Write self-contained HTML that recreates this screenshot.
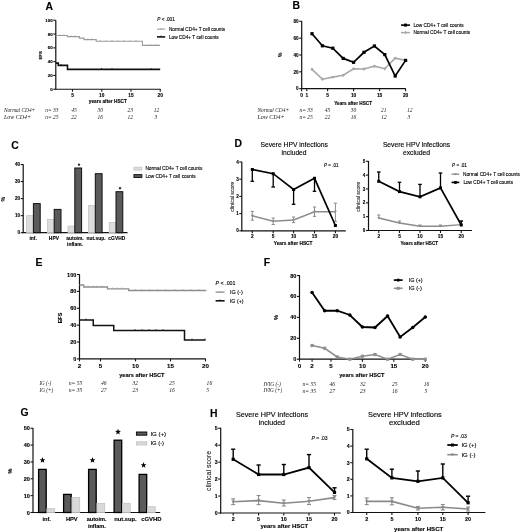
<!DOCTYPE html>
<html><head><meta charset="utf-8"><style>
html,body{margin:0;padding:0;background:#fff;width:520px;height:532px;overflow:hidden}
svg{display:block;filter:blur(0.3px)}

</style></head><body>
<svg width="520" height="532" viewBox="0 0 520 532">
<rect width="520" height="532" fill="#fff"/>
<text x="45.40" y="10.30" font-family='"Liberation Sans", sans-serif' font-size="10.40" font-weight="bold" font-style="normal" text-anchor="start" fill="#000" stroke="#000" stroke-width="0.12" >A</text>
<line x1="55.80" y1="20.20" x2="55.80" y2="89.60" stroke="#111" stroke-width="1.2" />
<line x1="53.30" y1="89.25" x2="55.80" y2="89.25" stroke="#111" stroke-width="1.08" />
<text x="52.70" y="90.83" font-family='"Liberation Sans", sans-serif' font-size="4.40" font-weight="bold" font-style="normal" text-anchor="end" fill="#000" stroke="#000" stroke-width="0.12" >0</text>
<line x1="53.30" y1="75.45" x2="55.80" y2="75.45" stroke="#111" stroke-width="1.08" />
<text x="52.70" y="77.03" font-family='"Liberation Sans", sans-serif' font-size="4.40" font-weight="bold" font-style="normal" text-anchor="end" fill="#000" stroke="#000" stroke-width="0.12" >20</text>
<line x1="53.30" y1="61.65" x2="55.80" y2="61.65" stroke="#111" stroke-width="1.08" />
<text x="52.70" y="63.23" font-family='"Liberation Sans", sans-serif' font-size="4.40" font-weight="bold" font-style="normal" text-anchor="end" fill="#000" stroke="#000" stroke-width="0.12" >40</text>
<line x1="53.30" y1="47.85" x2="55.80" y2="47.85" stroke="#111" stroke-width="1.08" />
<text x="52.70" y="49.43" font-family='"Liberation Sans", sans-serif' font-size="4.40" font-weight="bold" font-style="normal" text-anchor="end" fill="#000" stroke="#000" stroke-width="0.12" >60</text>
<line x1="53.30" y1="34.05" x2="55.80" y2="34.05" stroke="#111" stroke-width="1.08" />
<text x="52.70" y="35.63" font-family='"Liberation Sans", sans-serif' font-size="4.40" font-weight="bold" font-style="normal" text-anchor="end" fill="#000" stroke="#000" stroke-width="0.12" >80</text>
<line x1="53.30" y1="20.25" x2="55.80" y2="20.25" stroke="#111" stroke-width="1.08" />
<text x="52.70" y="21.83" font-family='"Liberation Sans", sans-serif' font-size="4.40" font-weight="bold" font-style="normal" text-anchor="end" fill="#000" stroke="#000" stroke-width="0.12" >100</text>
<line x1="55.20" y1="89.25" x2="160.60" y2="89.25" stroke="#111" stroke-width="1.2" />
<line x1="72.50" y1="89.25" x2="72.50" y2="91.75" stroke="#111" stroke-width="1.08" />
<text x="72.50" y="96.93" font-family='"Liberation Sans", sans-serif' font-size="4.80" font-weight="bold" font-style="normal" text-anchor="middle" fill="#000" stroke="#000" stroke-width="0.12" >5</text>
<line x1="101.75" y1="89.25" x2="101.75" y2="91.75" stroke="#111" stroke-width="1.08" />
<text x="101.75" y="96.93" font-family='"Liberation Sans", sans-serif' font-size="4.80" font-weight="bold" font-style="normal" text-anchor="middle" fill="#000" stroke="#000" stroke-width="0.12" >10</text>
<line x1="131.00" y1="89.25" x2="131.00" y2="91.75" stroke="#111" stroke-width="1.08" />
<text x="131.00" y="96.93" font-family='"Liberation Sans", sans-serif' font-size="4.80" font-weight="bold" font-style="normal" text-anchor="middle" fill="#000" stroke="#000" stroke-width="0.12" >15</text>
<line x1="160.25" y1="89.25" x2="160.25" y2="91.75" stroke="#111" stroke-width="1.08" />
<text x="160.25" y="96.93" font-family='"Liberation Sans", sans-serif' font-size="4.80" font-weight="bold" font-style="normal" text-anchor="middle" fill="#000" stroke="#000" stroke-width="0.12" >20</text>
<text x="88.80" y="102.76" font-family='"Liberation Sans", sans-serif' font-size="4.74" font-weight="bold" font-style="normal" text-anchor="start" fill="#000" stroke="#000" stroke-width="0.12" >years after HSCT</text>
<text x="0" y="0" transform="translate(42.18,55.30) rotate(-90)" font-family='"Liberation Sans", sans-serif' font-size="4.40" font-weight="bold" text-anchor="middle" fill="#000" stroke="#000" stroke-width="0.12">EFS</text>
<polyline points="55.80,35.50 67.30,35.50 67.30,36.60 79.40,36.60 79.40,38.10 84.00,38.10 84.00,39.60 96.20,39.60 96.20,41.30 142.40,41.30 142.40,45.40 160.00,45.40" fill="none" stroke="#9a9a9a" stroke-width="1.1" stroke-linejoin="miter" />
<line x1="60.00" y1="34.30" x2="60.00" y2="35.50" stroke="#9a9a9a" stroke-width="0.7" />
<line x1="64.00" y1="34.30" x2="64.00" y2="35.50" stroke="#9a9a9a" stroke-width="0.7" />
<line x1="71.00" y1="35.40" x2="71.00" y2="36.60" stroke="#9a9a9a" stroke-width="0.7" />
<line x1="75.00" y1="35.40" x2="75.00" y2="36.60" stroke="#9a9a9a" stroke-width="0.7" />
<line x1="88.00" y1="38.40" x2="88.00" y2="39.60" stroke="#9a9a9a" stroke-width="0.7" />
<line x1="92.00" y1="38.40" x2="92.00" y2="39.60" stroke="#9a9a9a" stroke-width="0.7" />
<line x1="100.00" y1="40.10" x2="100.00" y2="41.30" stroke="#9a9a9a" stroke-width="0.7" />
<line x1="106.00" y1="40.10" x2="106.00" y2="41.30" stroke="#9a9a9a" stroke-width="0.7" />
<line x1="112.00" y1="40.10" x2="112.00" y2="41.30" stroke="#9a9a9a" stroke-width="0.7" />
<line x1="118.00" y1="40.10" x2="118.00" y2="41.30" stroke="#9a9a9a" stroke-width="0.7" />
<line x1="124.00" y1="40.10" x2="124.00" y2="41.30" stroke="#9a9a9a" stroke-width="0.7" />
<line x1="130.00" y1="40.10" x2="130.00" y2="41.30" stroke="#9a9a9a" stroke-width="0.7" />
<line x1="136.00" y1="40.10" x2="136.00" y2="41.30" stroke="#9a9a9a" stroke-width="0.7" />
<line x1="150.00" y1="44.20" x2="150.00" y2="45.40" stroke="#9a9a9a" stroke-width="0.7" />
<line x1="156.00" y1="44.20" x2="156.00" y2="45.40" stroke="#9a9a9a" stroke-width="0.7" />
<polyline points="55.80,63.10 58.30,63.10 58.30,65.40 67.50,65.40 67.50,69.40 160.20,69.40" fill="none" stroke="#111" stroke-width="1.6" stroke-linejoin="miter" />
<line x1="61.00" y1="64.00" x2="61.00" y2="65.40" stroke="#111" stroke-width="0.8" />
<line x1="101.50" y1="68.00" x2="101.50" y2="69.40" stroke="#111" stroke-width="0.8" />
<line x1="112.00" y1="68.00" x2="112.00" y2="69.40" stroke="#111" stroke-width="0.8" />
<line x1="151.00" y1="68.00" x2="151.00" y2="69.40" stroke="#111" stroke-width="0.8" />
<text x="157.20" y="21.29" font-family='"Liberation Sans", sans-serif' font-size="4.70" fill="#000" stroke="#000" stroke-width="0.12"><tspan font-style="italic">P</tspan> &lt; .001</text>
<line x1="157.00" y1="29.10" x2="165.20" y2="29.10" stroke="#9a9a9a" stroke-width="1.1" />
<line x1="161.00" y1="28.00" x2="161.00" y2="29.10" stroke="#9a9a9a" stroke-width="0.7" />
<text x="168.90" y="30.80" font-family='"Liberation Sans", sans-serif' font-size="4.72" font-weight="normal" font-style="normal" text-anchor="start" fill="#000" stroke="#000" stroke-width="0.12" >Normal CD4+ T cell counts</text>
<line x1="157.00" y1="36.90" x2="165.20" y2="36.90" stroke="#111" stroke-width="1.6" />
<line x1="161.00" y1="35.60" x2="161.00" y2="36.90" stroke="#111" stroke-width="0.8" />
<text x="168.90" y="38.60" font-family='"Liberation Sans", sans-serif' font-size="4.73" font-weight="normal" font-style="normal" text-anchor="start" fill="#000" stroke="#000" stroke-width="0.12" >Low CD4+ T cell counts</text>
<text x="3.90" y="112.26" font-family='"Liberation Serif", serif' font-size="5.33" font-weight="normal" font-style="italic" text-anchor="start" fill="#1a1a1a" stroke="#1a1a1a" stroke-width="0" >Normal CD4+</text>
<text x="3.90" y="118.68" font-family='"Liberation Serif", serif' font-size="5.99" font-weight="normal" font-style="italic" text-anchor="start" fill="#1a1a1a" stroke="#1a1a1a" stroke-width="0" >Low CD4+</text>
<text x="45.20" y="112.31" font-family='"Liberation Serif", serif' font-size="5.50" font-weight="normal" font-style="italic" text-anchor="start" fill="#1a1a1a" stroke="#1a1a1a" stroke-width="0" >n= 33</text>
<text x="71.20" y="112.31" font-family='"Liberation Serif", serif' font-size="5.50" font-weight="normal" font-style="italic" text-anchor="start" fill="#1a1a1a" stroke="#1a1a1a" stroke-width="0" >45</text>
<text x="97.60" y="112.31" font-family='"Liberation Serif", serif' font-size="5.50" font-weight="normal" font-style="italic" text-anchor="start" fill="#1a1a1a" stroke="#1a1a1a" stroke-width="0" >30</text>
<text x="127.50" y="112.31" font-family='"Liberation Serif", serif' font-size="5.50" font-weight="normal" font-style="italic" text-anchor="start" fill="#1a1a1a" stroke="#1a1a1a" stroke-width="0" >23</text>
<text x="153.80" y="112.31" font-family='"Liberation Serif", serif' font-size="5.50" font-weight="normal" font-style="italic" text-anchor="start" fill="#1a1a1a" stroke="#1a1a1a" stroke-width="0" >12</text>
<text x="45.20" y="118.52" font-family='"Liberation Serif", serif' font-size="5.50" font-weight="normal" font-style="italic" text-anchor="start" fill="#1a1a1a" stroke="#1a1a1a" stroke-width="0" >n= 25</text>
<text x="71.20" y="118.52" font-family='"Liberation Serif", serif' font-size="5.50" font-weight="normal" font-style="italic" text-anchor="start" fill="#1a1a1a" stroke="#1a1a1a" stroke-width="0" >22</text>
<text x="97.60" y="118.52" font-family='"Liberation Serif", serif' font-size="5.50" font-weight="normal" font-style="italic" text-anchor="start" fill="#1a1a1a" stroke="#1a1a1a" stroke-width="0" >16</text>
<text x="127.50" y="118.52" font-family='"Liberation Serif", serif' font-size="5.50" font-weight="normal" font-style="italic" text-anchor="start" fill="#1a1a1a" stroke="#1a1a1a" stroke-width="0" >12</text>
<text x="154.50" y="118.52" font-family='"Liberation Serif", serif' font-size="5.50" font-weight="normal" font-style="italic" text-anchor="start" fill="#1a1a1a" stroke="#1a1a1a" stroke-width="0" >3</text>
<text x="292.60" y="8.90" font-family='"Liberation Sans", sans-serif' font-size="10.40" font-weight="bold" font-style="normal" text-anchor="start" fill="#000" stroke="#000" stroke-width="0.12" >B</text>
<line x1="301.70" y1="21.00" x2="301.70" y2="89.10" stroke="#111" stroke-width="1.2" />
<line x1="299.20" y1="88.70" x2="301.70" y2="88.70" stroke="#111" stroke-width="1.08" />
<text x="298.60" y="90.36" font-family='"Liberation Sans", sans-serif' font-size="4.60" font-weight="bold" font-style="normal" text-anchor="end" fill="#000" stroke="#000" stroke-width="0.12" >0</text>
<line x1="299.20" y1="71.84" x2="301.70" y2="71.84" stroke="#111" stroke-width="1.08" />
<text x="298.60" y="73.50" font-family='"Liberation Sans", sans-serif' font-size="4.60" font-weight="bold" font-style="normal" text-anchor="end" fill="#000" stroke="#000" stroke-width="0.12" >20</text>
<line x1="299.20" y1="54.98" x2="301.70" y2="54.98" stroke="#111" stroke-width="1.08" />
<text x="298.60" y="56.64" font-family='"Liberation Sans", sans-serif' font-size="4.60" font-weight="bold" font-style="normal" text-anchor="end" fill="#000" stroke="#000" stroke-width="0.12" >40</text>
<line x1="299.20" y1="38.12" x2="301.70" y2="38.12" stroke="#111" stroke-width="1.08" />
<text x="298.60" y="39.78" font-family='"Liberation Sans", sans-serif' font-size="4.60" font-weight="bold" font-style="normal" text-anchor="end" fill="#000" stroke="#000" stroke-width="0.12" >60</text>
<line x1="299.20" y1="21.26" x2="301.70" y2="21.26" stroke="#111" stroke-width="1.08" />
<text x="298.60" y="22.92" font-family='"Liberation Sans", sans-serif' font-size="4.60" font-weight="bold" font-style="normal" text-anchor="end" fill="#000" stroke="#000" stroke-width="0.12" >80</text>
<line x1="301.10" y1="88.70" x2="405.90" y2="88.70" stroke="#111" stroke-width="1.2" />
<line x1="301.60" y1="88.70" x2="301.60" y2="91.20" stroke="#111" stroke-width="1.08" />
<text x="301.60" y="96.73" font-family='"Liberation Sans", sans-serif' font-size="4.80" font-weight="bold" font-style="normal" text-anchor="middle" fill="#000" stroke="#000" stroke-width="0.12" >0</text>
<line x1="306.80" y1="88.70" x2="306.80" y2="91.20" stroke="#111" stroke-width="1.08" />
<text x="306.80" y="96.73" font-family='"Liberation Sans", sans-serif' font-size="4.80" font-weight="bold" font-style="normal" text-anchor="middle" fill="#000" stroke="#000" stroke-width="0.12" >1</text>
<line x1="327.60" y1="88.70" x2="327.60" y2="91.20" stroke="#111" stroke-width="1.08" />
<text x="327.60" y="96.73" font-family='"Liberation Sans", sans-serif' font-size="4.80" font-weight="bold" font-style="normal" text-anchor="middle" fill="#000" stroke="#000" stroke-width="0.12" >5</text>
<line x1="353.60" y1="88.70" x2="353.60" y2="91.20" stroke="#111" stroke-width="1.08" />
<text x="353.60" y="96.73" font-family='"Liberation Sans", sans-serif' font-size="4.80" font-weight="bold" font-style="normal" text-anchor="middle" fill="#000" stroke="#000" stroke-width="0.12" >10</text>
<line x1="379.60" y1="88.70" x2="379.60" y2="91.20" stroke="#111" stroke-width="1.08" />
<text x="379.60" y="96.73" font-family='"Liberation Sans", sans-serif' font-size="4.80" font-weight="bold" font-style="normal" text-anchor="middle" fill="#000" stroke="#000" stroke-width="0.12" >15</text>
<line x1="405.60" y1="88.70" x2="405.60" y2="91.20" stroke="#111" stroke-width="1.08" />
<text x="405.60" y="96.73" font-family='"Liberation Sans", sans-serif' font-size="4.80" font-weight="bold" font-style="normal" text-anchor="middle" fill="#000" stroke="#000" stroke-width="0.12" >20</text>
<text x="334.20" y="104.54" font-family='"Liberation Sans", sans-serif' font-size="4.67" font-weight="bold" font-style="normal" text-anchor="start" fill="#000" stroke="#000" stroke-width="0.12" >Years after HSCT</text>
<text x="0" y="0" transform="translate(282.43,54.90) rotate(-90)" font-family='"Liberation Sans", sans-serif' font-size="4.80" font-weight="bold" text-anchor="middle" fill="#000" stroke="#000" stroke-width="0.12">%</text>
<polyline points="312.00,69.30 322.40,79.20 332.80,77.10 343.20,75.20 353.60,68.80 364.00,69.00 374.40,66.20 384.80,68.70 395.20,58.10 405.60,60.40" fill="none" stroke="#a8a8a8" stroke-width="1.6" stroke-linejoin="miter" />
<polygon points="312.00,67.60 313.70,69.30 312.00,71.00 310.30,69.30" fill="#a8a8a8"/>
<polygon points="322.40,77.50 324.10,79.20 322.40,80.90 320.70,79.20" fill="#a8a8a8"/>
<polygon points="332.80,75.40 334.50,77.10 332.80,78.80 331.10,77.10" fill="#a8a8a8"/>
<polygon points="343.20,73.50 344.90,75.20 343.20,76.90 341.50,75.20" fill="#a8a8a8"/>
<polygon points="353.60,67.10 355.30,68.80 353.60,70.50 351.90,68.80" fill="#a8a8a8"/>
<polygon points="364.00,67.30 365.70,69.00 364.00,70.70 362.30,69.00" fill="#a8a8a8"/>
<polygon points="374.40,64.50 376.10,66.20 374.40,67.90 372.70,66.20" fill="#a8a8a8"/>
<polygon points="384.80,67.00 386.50,68.70 384.80,70.40 383.10,68.70" fill="#a8a8a8"/>
<polygon points="395.20,56.40 396.90,58.10 395.20,59.80 393.50,58.10" fill="#a8a8a8"/>
<polygon points="405.60,58.70 407.30,60.40 405.60,62.10 403.90,60.40" fill="#a8a8a8"/>
<polyline points="312.00,33.70 322.40,45.80 332.80,48.20 343.20,58.40 353.60,62.30 364.00,52.30 374.40,46.00 384.80,54.60 395.20,76.00 405.60,60.40" fill="none" stroke="#000" stroke-width="1.7" stroke-linejoin="miter" />
<rect x="310.40" y="32.10" width="3.20" height="3.20" fill="#000" stroke="none" stroke-width="0"/>
<rect x="320.80" y="44.20" width="3.20" height="3.20" fill="#000" stroke="none" stroke-width="0"/>
<rect x="331.20" y="46.60" width="3.20" height="3.20" fill="#000" stroke="none" stroke-width="0"/>
<rect x="341.60" y="56.80" width="3.20" height="3.20" fill="#000" stroke="none" stroke-width="0"/>
<rect x="352.00" y="60.70" width="3.20" height="3.20" fill="#000" stroke="none" stroke-width="0"/>
<rect x="362.40" y="50.70" width="3.20" height="3.20" fill="#000" stroke="none" stroke-width="0"/>
<rect x="372.80" y="44.40" width="3.20" height="3.20" fill="#000" stroke="none" stroke-width="0"/>
<rect x="383.20" y="53.00" width="3.20" height="3.20" fill="#000" stroke="none" stroke-width="0"/>
<rect x="393.60" y="74.40" width="3.20" height="3.20" fill="#000" stroke="none" stroke-width="0"/>
<rect x="404.00" y="58.80" width="3.20" height="3.20" fill="#000" stroke="none" stroke-width="0"/>
<line x1="401.00" y1="25.10" x2="410.00" y2="25.10" stroke="#000" stroke-width="1.6" />
<rect x="404.00" y="23.60" width="3.00" height="3.00" fill="#000" stroke="none" stroke-width="0"/>
<text x="413.40" y="26.82" font-family='"Liberation Sans", sans-serif' font-size="4.78" font-weight="normal" font-style="normal" text-anchor="start" fill="#000" stroke="#000" stroke-width="0.12" >Low CD4+ T cell counts</text>
<line x1="401.00" y1="32.60" x2="410.00" y2="32.60" stroke="#a8a8a8" stroke-width="1.5" />
<polygon points="405.50,31.00 407.10,32.60 405.50,34.20 403.90,32.60" fill="#a8a8a8"/>
<text x="413.40" y="34.31" font-family='"Liberation Sans", sans-serif' font-size="4.76" font-weight="normal" font-style="normal" text-anchor="start" fill="#000" stroke="#000" stroke-width="0.12" >Normal CD4+ T cell counts</text>
<text x="257.40" y="111.78" font-family='"Liberation Serif", serif' font-size="5.40" font-weight="normal" font-style="italic" text-anchor="start" fill="#1a1a1a" stroke="#1a1a1a" stroke-width="0" >Normal CD4+</text>
<text x="257.40" y="118.88" font-family='"Liberation Serif", serif' font-size="5.99" font-weight="normal" font-style="italic" text-anchor="start" fill="#1a1a1a" stroke="#1a1a1a" stroke-width="0" >Low CD4+</text>
<text x="299.50" y="111.81" font-family='"Liberation Serif", serif' font-size="5.50" font-weight="normal" font-style="italic" text-anchor="start" fill="#1a1a1a" stroke="#1a1a1a" stroke-width="0" >n= 33</text>
<text x="324.80" y="111.81" font-family='"Liberation Serif", serif' font-size="5.50" font-weight="normal" font-style="italic" text-anchor="start" fill="#1a1a1a" stroke="#1a1a1a" stroke-width="0" >45</text>
<text x="350.80" y="111.81" font-family='"Liberation Serif", serif' font-size="5.50" font-weight="normal" font-style="italic" text-anchor="start" fill="#1a1a1a" stroke="#1a1a1a" stroke-width="0" >30</text>
<text x="381.00" y="111.81" font-family='"Liberation Serif", serif' font-size="5.50" font-weight="normal" font-style="italic" text-anchor="start" fill="#1a1a1a" stroke="#1a1a1a" stroke-width="0" >21</text>
<text x="407.00" y="111.81" font-family='"Liberation Serif", serif' font-size="5.50" font-weight="normal" font-style="italic" text-anchor="start" fill="#1a1a1a" stroke="#1a1a1a" stroke-width="0" >12</text>
<text x="299.50" y="118.72" font-family='"Liberation Serif", serif' font-size="5.50" font-weight="normal" font-style="italic" text-anchor="start" fill="#1a1a1a" stroke="#1a1a1a" stroke-width="0" >n= 25</text>
<text x="324.80" y="118.72" font-family='"Liberation Serif", serif' font-size="5.50" font-weight="normal" font-style="italic" text-anchor="start" fill="#1a1a1a" stroke="#1a1a1a" stroke-width="0" >22</text>
<text x="350.80" y="118.72" font-family='"Liberation Serif", serif' font-size="5.50" font-weight="normal" font-style="italic" text-anchor="start" fill="#1a1a1a" stroke="#1a1a1a" stroke-width="0" >16</text>
<text x="381.20" y="118.72" font-family='"Liberation Serif", serif' font-size="5.50" font-weight="normal" font-style="italic" text-anchor="start" fill="#1a1a1a" stroke="#1a1a1a" stroke-width="0" >12</text>
<text x="407.60" y="118.72" font-family='"Liberation Serif", serif' font-size="5.50" font-weight="normal" font-style="italic" text-anchor="start" fill="#1a1a1a" stroke="#1a1a1a" stroke-width="0" >3</text>
<text x="11.30" y="148.80" font-family='"Liberation Sans", sans-serif' font-size="10.40" font-weight="bold" font-style="normal" text-anchor="start" fill="#000" stroke="#000" stroke-width="0.12" >C</text>
<line x1="23.20" y1="164.20" x2="23.20" y2="233.10" stroke="#111" stroke-width="1.2" />
<line x1="20.70" y1="232.70" x2="23.20" y2="232.70" stroke="#111" stroke-width="1.08" />
<text x="20.10" y="234.36" font-family='"Liberation Sans", sans-serif' font-size="4.60" font-weight="bold" font-style="normal" text-anchor="end" fill="#000" stroke="#000" stroke-width="0.12" >0</text>
<line x1="20.70" y1="215.65" x2="23.20" y2="215.65" stroke="#111" stroke-width="1.08" />
<text x="20.10" y="217.31" font-family='"Liberation Sans", sans-serif' font-size="4.60" font-weight="bold" font-style="normal" text-anchor="end" fill="#000" stroke="#000" stroke-width="0.12" >10</text>
<line x1="20.70" y1="198.60" x2="23.20" y2="198.60" stroke="#111" stroke-width="1.08" />
<text x="20.10" y="200.26" font-family='"Liberation Sans", sans-serif' font-size="4.60" font-weight="bold" font-style="normal" text-anchor="end" fill="#000" stroke="#000" stroke-width="0.12" >20</text>
<line x1="20.70" y1="181.55" x2="23.20" y2="181.55" stroke="#111" stroke-width="1.08" />
<text x="20.10" y="183.21" font-family='"Liberation Sans", sans-serif' font-size="4.60" font-weight="bold" font-style="normal" text-anchor="end" fill="#000" stroke="#000" stroke-width="0.12" >30</text>
<line x1="20.70" y1="164.50" x2="23.20" y2="164.50" stroke="#111" stroke-width="1.08" />
<text x="20.10" y="166.16" font-family='"Liberation Sans", sans-serif' font-size="4.60" font-weight="bold" font-style="normal" text-anchor="end" fill="#000" stroke="#000" stroke-width="0.12" >40</text>
<line x1="22.60" y1="232.70" x2="127.50" y2="232.70" stroke="#111" stroke-width="1.2" />
<text x="0" y="0" transform="translate(4.73,199.00) rotate(-90)" font-family='"Liberation Sans", sans-serif' font-size="4.80" font-weight="bold" text-anchor="middle" fill="#000" stroke="#000" stroke-width="0.12">%</text>
<rect x="26.60" y="215.60" width="6.60" height="17.10" fill="#dcdcdc" stroke="#c4c4c4" stroke-width="0.8"/>
<rect x="33.40" y="203.60" width="6.80" height="29.10" fill="#5a5a5a" stroke="#111" stroke-width="1.0"/>
<rect x="47.40" y="219.40" width="6.60" height="13.30" fill="#dcdcdc" stroke="#c4c4c4" stroke-width="0.8"/>
<rect x="54.20" y="209.40" width="6.80" height="23.30" fill="#5a5a5a" stroke="#111" stroke-width="1.0"/>
<rect x="68.00" y="226.10" width="6.60" height="6.60" fill="#dcdcdc" stroke="#c4c4c4" stroke-width="0.8"/>
<rect x="74.80" y="168.00" width="6.80" height="64.70" fill="#5a5a5a" stroke="#111" stroke-width="1.0"/>
<rect x="88.50" y="205.40" width="6.60" height="27.30" fill="#dcdcdc" stroke="#c4c4c4" stroke-width="0.8"/>
<rect x="95.30" y="173.70" width="6.80" height="59.00" fill="#5a5a5a" stroke="#111" stroke-width="1.0"/>
<rect x="109.20" y="222.40" width="6.60" height="10.30" fill="#dcdcdc" stroke="#c4c4c4" stroke-width="0.8"/>
<rect x="116.00" y="191.70" width="6.80" height="41.00" fill="#5a5a5a" stroke="#111" stroke-width="1.0"/>
<polygon points="79.00,162.90 79.42,164.02 80.62,164.07 79.68,164.82 80.00,165.98 79.00,165.31 78.00,165.98 78.32,164.82 77.38,164.07 78.58,164.02" fill="#000"/>
<polygon points="120.00,186.50 120.42,187.62 121.62,187.67 120.68,188.42 121.00,189.58 120.00,188.91 119.00,189.58 119.32,188.42 118.38,187.67 119.58,187.62" fill="#000"/>
<text x="33.20" y="239.86" font-family='"Liberation Sans", sans-serif' font-size="4.90" font-weight="bold" font-style="normal" text-anchor="middle" fill="#000" stroke="#000" stroke-width="0.12" >inf.</text>
<text x="53.90" y="239.86" font-family='"Liberation Sans", sans-serif' font-size="4.90" font-weight="bold" font-style="normal" text-anchor="middle" fill="#000" stroke="#000" stroke-width="0.12" >HPV</text>
<text x="75.00" y="239.86" font-family='"Liberation Sans", sans-serif' font-size="4.90" font-weight="bold" font-style="normal" text-anchor="middle" fill="#000" stroke="#000" stroke-width="0.12" >autoim.</text>
<text x="96.00" y="239.86" font-family='"Liberation Sans", sans-serif' font-size="4.90" font-weight="bold" font-style="normal" text-anchor="middle" fill="#000" stroke="#000" stroke-width="0.12" >nut.sup.</text>
<text x="116.80" y="239.86" font-family='"Liberation Sans", sans-serif' font-size="4.90" font-weight="bold" font-style="normal" text-anchor="middle" fill="#000" stroke="#000" stroke-width="0.12" >cGVHD</text>
<text x="75.00" y="245.66" font-family='"Liberation Sans", sans-serif' font-size="4.90" font-weight="bold" font-style="normal" text-anchor="middle" fill="#000" stroke="#000" stroke-width="0.12" >inflam.</text>
<rect x="133.90" y="167.20" width="8.00" height="2.90" fill="#dcdcdc" stroke="#c4c4c4" stroke-width="0.8"/>
<text x="145.40" y="170.42" font-family='"Liberation Sans", sans-serif' font-size="4.77" font-weight="normal" font-style="normal" text-anchor="start" fill="#000" stroke="#000" stroke-width="0.12" >Normal CD4+ T cell counts</text>
<rect x="133.90" y="174.60" width="8.00" height="2.90" fill="#5a5a5a" stroke="#111" stroke-width="0.9"/>
<text x="145.40" y="177.52" font-family='"Liberation Sans", sans-serif' font-size="4.78" font-weight="normal" font-style="normal" text-anchor="start" fill="#000" stroke="#000" stroke-width="0.12" >Low CD4+ T cell counts</text>
<text x="234.60" y="147.00" font-family='"Liberation Sans", sans-serif' font-size="10.40" font-weight="bold" font-style="normal" text-anchor="start" fill="#000" stroke="#000" stroke-width="0.12" >D</text>
<text x="260.40" y="146.93" font-family='"Liberation Sans", sans-serif' font-size="6.74" font-weight="normal" font-style="normal" text-anchor="start" fill="#000" stroke="#000" stroke-width="0.12" >Severe HPV infections</text>
<text x="281.60" y="155.02" font-family='"Liberation Sans", sans-serif' font-size="6.71" font-weight="normal" font-style="normal" text-anchor="start" fill="#000" stroke="#000" stroke-width="0.12" >included</text>
<line x1="241.80" y1="161.70" x2="241.80" y2="231.20" stroke="#111" stroke-width="1.2" />
<line x1="239.30" y1="230.80" x2="241.80" y2="230.80" stroke="#111" stroke-width="1.08" />
<text x="238.70" y="232.46" font-family='"Liberation Sans", sans-serif' font-size="4.60" font-weight="bold" font-style="normal" text-anchor="end" fill="#000" stroke="#000" stroke-width="0.12" >0</text>
<line x1="239.30" y1="213.60" x2="241.80" y2="213.60" stroke="#111" stroke-width="1.08" />
<text x="238.70" y="215.26" font-family='"Liberation Sans", sans-serif' font-size="4.60" font-weight="bold" font-style="normal" text-anchor="end" fill="#000" stroke="#000" stroke-width="0.12" >1</text>
<line x1="239.30" y1="196.40" x2="241.80" y2="196.40" stroke="#111" stroke-width="1.08" />
<text x="238.70" y="198.06" font-family='"Liberation Sans", sans-serif' font-size="4.60" font-weight="bold" font-style="normal" text-anchor="end" fill="#000" stroke="#000" stroke-width="0.12" >2</text>
<line x1="239.30" y1="179.20" x2="241.80" y2="179.20" stroke="#111" stroke-width="1.08" />
<text x="238.70" y="180.86" font-family='"Liberation Sans", sans-serif' font-size="4.60" font-weight="bold" font-style="normal" text-anchor="end" fill="#000" stroke="#000" stroke-width="0.12" >3</text>
<line x1="239.30" y1="162.00" x2="241.80" y2="162.00" stroke="#111" stroke-width="1.08" />
<text x="238.70" y="163.66" font-family='"Liberation Sans", sans-serif' font-size="4.60" font-weight="bold" font-style="normal" text-anchor="end" fill="#000" stroke="#000" stroke-width="0.12" >4</text>
<line x1="241.20" y1="230.80" x2="345.80" y2="230.80" stroke="#111" stroke-width="1.2" />
<line x1="252.30" y1="230.80" x2="252.30" y2="233.30" stroke="#111" stroke-width="1.08" />
<text x="252.30" y="237.63" font-family='"Liberation Sans", sans-serif' font-size="4.80" font-weight="bold" font-style="normal" text-anchor="middle" fill="#000" stroke="#000" stroke-width="0.12" >2</text>
<line x1="273.20" y1="230.80" x2="273.20" y2="233.30" stroke="#111" stroke-width="1.08" />
<text x="273.20" y="237.63" font-family='"Liberation Sans", sans-serif' font-size="4.80" font-weight="bold" font-style="normal" text-anchor="middle" fill="#000" stroke="#000" stroke-width="0.12" >5</text>
<line x1="293.60" y1="230.80" x2="293.60" y2="233.30" stroke="#111" stroke-width="1.08" />
<text x="293.60" y="237.63" font-family='"Liberation Sans", sans-serif' font-size="4.80" font-weight="bold" font-style="normal" text-anchor="middle" fill="#000" stroke="#000" stroke-width="0.12" >10</text>
<line x1="314.50" y1="230.80" x2="314.50" y2="233.30" stroke="#111" stroke-width="1.08" />
<text x="314.50" y="237.63" font-family='"Liberation Sans", sans-serif' font-size="4.80" font-weight="bold" font-style="normal" text-anchor="middle" fill="#000" stroke="#000" stroke-width="0.12" >15</text>
<line x1="335.40" y1="230.80" x2="335.40" y2="233.30" stroke="#111" stroke-width="1.08" />
<text x="335.40" y="237.63" font-family='"Liberation Sans", sans-serif' font-size="4.80" font-weight="bold" font-style="normal" text-anchor="middle" fill="#000" stroke="#000" stroke-width="0.12" >20</text>
<text x="273.80" y="245.18" font-family='"Liberation Sans", sans-serif' font-size="4.78" font-weight="bold" font-style="normal" text-anchor="start" fill="#000" stroke="#000" stroke-width="0.12" >Years after HSCT</text>
<text x="0" y="0" transform="translate(233.67,196.80) rotate(-90)" font-family='"Liberation Sans", sans-serif' font-size="5.20" font-weight="normal" text-anchor="middle" fill="#222" stroke="#222" stroke-width="0.12">clinical score</text>
<polyline points="252.30,215.80 273.20,221.20 293.60,220.00 314.50,211.80 335.40,211.80" fill="none" stroke="#8c8c8c" stroke-width="1.4" stroke-linejoin="miter" />
<line x1="252.30" y1="211.40" x2="252.30" y2="220.20" stroke="#8c8c8c" stroke-width="1.0" />
<line x1="250.70" y1="211.40" x2="253.90" y2="211.40" stroke="#8c8c8c" stroke-width="1.0" />
<line x1="250.70" y1="220.20" x2="253.90" y2="220.20" stroke="#8c8c8c" stroke-width="1.0" />
<polygon points="250.80,214.75 253.80,214.75 252.30,217.15" fill="#8c8c8c"/>
<line x1="273.20" y1="218.00" x2="273.20" y2="224.50" stroke="#8c8c8c" stroke-width="1.0" />
<line x1="271.60" y1="218.00" x2="274.80" y2="218.00" stroke="#8c8c8c" stroke-width="1.0" />
<line x1="271.60" y1="224.50" x2="274.80" y2="224.50" stroke="#8c8c8c" stroke-width="1.0" />
<polygon points="271.70,220.15 274.70,220.15 273.20,222.55" fill="#8c8c8c"/>
<line x1="293.60" y1="217.00" x2="293.60" y2="222.60" stroke="#8c8c8c" stroke-width="1.0" />
<line x1="292.00" y1="217.00" x2="295.20" y2="217.00" stroke="#8c8c8c" stroke-width="1.0" />
<line x1="292.00" y1="222.60" x2="295.20" y2="222.60" stroke="#8c8c8c" stroke-width="1.0" />
<polygon points="292.10,218.95 295.10,218.95 293.60,221.35" fill="#8c8c8c"/>
<line x1="314.50" y1="207.00" x2="314.50" y2="216.40" stroke="#8c8c8c" stroke-width="1.0" />
<line x1="312.90" y1="207.00" x2="316.10" y2="207.00" stroke="#8c8c8c" stroke-width="1.0" />
<line x1="312.90" y1="216.40" x2="316.10" y2="216.40" stroke="#8c8c8c" stroke-width="1.0" />
<polygon points="313.00,210.75 316.00,210.75 314.50,213.15" fill="#8c8c8c"/>
<line x1="335.40" y1="203.20" x2="335.40" y2="221.30" stroke="#8c8c8c" stroke-width="1.0" />
<line x1="333.80" y1="203.20" x2="337.00" y2="203.20" stroke="#8c8c8c" stroke-width="1.0" />
<line x1="333.80" y1="221.30" x2="337.00" y2="221.30" stroke="#8c8c8c" stroke-width="1.0" />
<polygon points="333.90,210.75 336.90,210.75 335.40,213.15" fill="#8c8c8c"/>
<polyline points="252.30,169.50 273.20,173.70 293.60,189.50 314.50,178.30 335.40,225.50" fill="none" stroke="#000" stroke-width="1.7" stroke-linejoin="miter" />
<line x1="252.30" y1="169.50" x2="252.30" y2="181.30" stroke="#000" stroke-width="1.3" />
<line x1="250.50" y1="181.30" x2="254.10" y2="181.30" stroke="#000" stroke-width="1.3" />
<rect x="250.80" y="168.00" width="3.00" height="3.00" fill="#000" stroke="none" stroke-width="0"/>
<line x1="273.20" y1="173.70" x2="273.20" y2="187.00" stroke="#000" stroke-width="1.3" />
<line x1="271.40" y1="187.00" x2="275.00" y2="187.00" stroke="#000" stroke-width="1.3" />
<rect x="271.70" y="172.20" width="3.00" height="3.00" fill="#000" stroke="none" stroke-width="0"/>
<line x1="293.60" y1="189.50" x2="293.60" y2="204.30" stroke="#000" stroke-width="1.3" />
<line x1="291.80" y1="204.30" x2="295.40" y2="204.30" stroke="#000" stroke-width="1.3" />
<rect x="292.10" y="188.00" width="3.00" height="3.00" fill="#000" stroke="none" stroke-width="0"/>
<line x1="314.50" y1="178.30" x2="314.50" y2="191.30" stroke="#000" stroke-width="1.3" />
<line x1="312.70" y1="191.30" x2="316.30" y2="191.30" stroke="#000" stroke-width="1.3" />
<rect x="313.00" y="176.80" width="3.00" height="3.00" fill="#000" stroke="none" stroke-width="0"/>
<rect x="333.90" y="224.00" width="3.00" height="3.00" fill="#000" stroke="none" stroke-width="0"/>
<text x="323.90" y="167.46" font-family='"Liberation Sans", sans-serif' font-size="4.60" fill="#000" stroke="#000" stroke-width="0.12"><tspan font-style="italic">P</tspan> = .01</text>
<line x1="368.50" y1="161.00" x2="368.50" y2="230.90" stroke="#111" stroke-width="1.2" />
<line x1="366.00" y1="230.50" x2="368.50" y2="230.50" stroke="#111" stroke-width="1.08" />
<text x="365.40" y="232.16" font-family='"Liberation Sans", sans-serif' font-size="4.60" font-weight="bold" font-style="normal" text-anchor="end" fill="#000" stroke="#000" stroke-width="0.12" >0</text>
<line x1="366.00" y1="216.65" x2="368.50" y2="216.65" stroke="#111" stroke-width="1.08" />
<text x="365.40" y="218.31" font-family='"Liberation Sans", sans-serif' font-size="4.60" font-weight="bold" font-style="normal" text-anchor="end" fill="#000" stroke="#000" stroke-width="0.12" >1</text>
<line x1="366.00" y1="202.80" x2="368.50" y2="202.80" stroke="#111" stroke-width="1.08" />
<text x="365.40" y="204.46" font-family='"Liberation Sans", sans-serif' font-size="4.60" font-weight="bold" font-style="normal" text-anchor="end" fill="#000" stroke="#000" stroke-width="0.12" >2</text>
<line x1="366.00" y1="188.95" x2="368.50" y2="188.95" stroke="#111" stroke-width="1.08" />
<text x="365.40" y="190.61" font-family='"Liberation Sans", sans-serif' font-size="4.60" font-weight="bold" font-style="normal" text-anchor="end" fill="#000" stroke="#000" stroke-width="0.12" >3</text>
<line x1="366.00" y1="175.10" x2="368.50" y2="175.10" stroke="#111" stroke-width="1.08" />
<text x="365.40" y="176.76" font-family='"Liberation Sans", sans-serif' font-size="4.60" font-weight="bold" font-style="normal" text-anchor="end" fill="#000" stroke="#000" stroke-width="0.12" >4</text>
<line x1="366.00" y1="161.25" x2="368.50" y2="161.25" stroke="#111" stroke-width="1.08" />
<text x="365.40" y="162.91" font-family='"Liberation Sans", sans-serif' font-size="4.60" font-weight="bold" font-style="normal" text-anchor="end" fill="#000" stroke="#000" stroke-width="0.12" >5</text>
<line x1="367.90" y1="230.50" x2="472.00" y2="230.50" stroke="#111" stroke-width="1.2" />
<line x1="378.75" y1="230.50" x2="378.75" y2="233.00" stroke="#111" stroke-width="1.08" />
<text x="378.75" y="237.63" font-family='"Liberation Sans", sans-serif' font-size="4.80" font-weight="bold" font-style="normal" text-anchor="middle" fill="#000" stroke="#000" stroke-width="0.12" >2</text>
<line x1="399.50" y1="230.50" x2="399.50" y2="233.00" stroke="#111" stroke-width="1.08" />
<text x="399.50" y="237.63" font-family='"Liberation Sans", sans-serif' font-size="4.80" font-weight="bold" font-style="normal" text-anchor="middle" fill="#000" stroke="#000" stroke-width="0.12" >5</text>
<line x1="420.00" y1="230.50" x2="420.00" y2="233.00" stroke="#111" stroke-width="1.08" />
<text x="420.00" y="237.63" font-family='"Liberation Sans", sans-serif' font-size="4.80" font-weight="bold" font-style="normal" text-anchor="middle" fill="#000" stroke="#000" stroke-width="0.12" >10</text>
<line x1="440.50" y1="230.50" x2="440.50" y2="233.00" stroke="#111" stroke-width="1.08" />
<text x="440.50" y="237.63" font-family='"Liberation Sans", sans-serif' font-size="4.80" font-weight="bold" font-style="normal" text-anchor="middle" fill="#000" stroke="#000" stroke-width="0.12" >15</text>
<line x1="461.25" y1="230.50" x2="461.25" y2="233.00" stroke="#111" stroke-width="1.08" />
<text x="461.25" y="237.63" font-family='"Liberation Sans", sans-serif' font-size="4.80" font-weight="bold" font-style="normal" text-anchor="middle" fill="#000" stroke="#000" stroke-width="0.12" >20</text>
<text x="400.40" y="244.85" font-family='"Liberation Sans", sans-serif' font-size="4.68" font-weight="bold" font-style="normal" text-anchor="start" fill="#000" stroke="#000" stroke-width="0.12" >Years after HSCT</text>
<text x="382.90" y="146.92" font-family='"Liberation Sans", sans-serif' font-size="6.73" font-weight="normal" font-style="normal" text-anchor="start" fill="#000" stroke="#000" stroke-width="0.12" >Severe HPV infections</text>
<text x="402.90" y="155.05" font-family='"Liberation Sans", sans-serif' font-size="6.80" font-weight="normal" font-style="normal" text-anchor="start" fill="#000" stroke="#000" stroke-width="0.12" >excluded</text>
<text x="0" y="0" transform="translate(360.17,196.80) rotate(-90)" font-family='"Liberation Sans", sans-serif' font-size="5.20" font-weight="normal" text-anchor="middle" fill="#222" stroke="#222" stroke-width="0.12">clinical score</text>
<polyline points="378.75,218.00 399.50,223.00 420.00,226.20 440.50,226.20 461.25,224.60" fill="none" stroke="#8c8c8c" stroke-width="1.4" stroke-linejoin="miter" />
<line x1="378.75" y1="215.00" x2="378.75" y2="218.00" stroke="#8c8c8c" stroke-width="1.0" />
<line x1="377.15" y1="215.00" x2="380.35" y2="215.00" stroke="#8c8c8c" stroke-width="1.0" />
<polygon points="377.25,216.95 380.25,216.95 378.75,219.35" fill="#8c8c8c"/>
<line x1="399.50" y1="221.00" x2="399.50" y2="223.00" stroke="#8c8c8c" stroke-width="1.0" />
<line x1="397.90" y1="221.00" x2="401.10" y2="221.00" stroke="#8c8c8c" stroke-width="1.0" />
<polygon points="398.00,221.95 401.00,221.95 399.50,224.35" fill="#8c8c8c"/>
<line x1="420.00" y1="225.00" x2="420.00" y2="226.20" stroke="#8c8c8c" stroke-width="1.0" />
<line x1="418.40" y1="225.00" x2="421.60" y2="225.00" stroke="#8c8c8c" stroke-width="1.0" />
<polygon points="418.50,225.15 421.50,225.15 420.00,227.55" fill="#8c8c8c"/>
<line x1="440.50" y1="225.00" x2="440.50" y2="226.20" stroke="#8c8c8c" stroke-width="1.0" />
<line x1="438.90" y1="225.00" x2="442.10" y2="225.00" stroke="#8c8c8c" stroke-width="1.0" />
<polygon points="439.00,225.15 442.00,225.15 440.50,227.55" fill="#8c8c8c"/>
<line x1="461.25" y1="221.20" x2="461.25" y2="224.60" stroke="#8c8c8c" stroke-width="1.0" />
<line x1="459.65" y1="221.20" x2="462.85" y2="221.20" stroke="#8c8c8c" stroke-width="1.0" />
<polygon points="459.75,223.55 462.75,223.55 461.25,225.95" fill="#8c8c8c"/>
<polyline points="378.75,181.30 399.50,191.60 420.00,196.80 440.50,187.90 461.25,225.00" fill="none" stroke="#000" stroke-width="1.7" stroke-linejoin="miter" />
<line x1="378.75" y1="181.30" x2="378.75" y2="172.00" stroke="#000" stroke-width="1.3" />
<line x1="376.95" y1="172.00" x2="380.55" y2="172.00" stroke="#000" stroke-width="1.3" />
<rect x="377.25" y="179.80" width="3.00" height="3.00" fill="#000" stroke="none" stroke-width="0"/>
<line x1="399.50" y1="191.60" x2="399.50" y2="182.30" stroke="#000" stroke-width="1.3" />
<line x1="397.70" y1="182.30" x2="401.30" y2="182.30" stroke="#000" stroke-width="1.3" />
<rect x="398.00" y="190.10" width="3.00" height="3.00" fill="#000" stroke="none" stroke-width="0"/>
<line x1="420.00" y1="196.80" x2="420.00" y2="184.40" stroke="#000" stroke-width="1.3" />
<line x1="418.20" y1="184.40" x2="421.80" y2="184.40" stroke="#000" stroke-width="1.3" />
<rect x="418.50" y="195.30" width="3.00" height="3.00" fill="#000" stroke="none" stroke-width="0"/>
<line x1="440.50" y1="187.90" x2="440.50" y2="173.00" stroke="#000" stroke-width="1.3" />
<line x1="438.70" y1="173.00" x2="442.30" y2="173.00" stroke="#000" stroke-width="1.3" />
<rect x="439.00" y="186.40" width="3.00" height="3.00" fill="#000" stroke="none" stroke-width="0"/>
<line x1="461.25" y1="225.00" x2="461.25" y2="221.00" stroke="#000" stroke-width="1.3" />
<line x1="459.45" y1="221.00" x2="463.05" y2="221.00" stroke="#000" stroke-width="1.3" />
<rect x="459.75" y="223.50" width="3.00" height="3.00" fill="#000" stroke="none" stroke-width="0"/>
<text x="452.10" y="167.46" font-family='"Liberation Sans", sans-serif' font-size="4.60" fill="#000" stroke="#000" stroke-width="0.12"><tspan font-style="italic">P</tspan> = .01</text>
<line x1="451.50" y1="174.20" x2="459.30" y2="174.20" stroke="#8c8c8c" stroke-width="1.3" />
<polygon points="454.00,173.22 456.80,173.22 455.40,175.46" fill="#8c8c8c"/>
<text x="463.00" y="175.92" font-family='"Liberation Sans", sans-serif' font-size="4.78" font-weight="normal" font-style="normal" text-anchor="start" fill="#000" stroke="#000" stroke-width="0.12" >Normal CD4+ T cell counts</text>
<line x1="451.50" y1="182.40" x2="459.30" y2="182.40" stroke="#000" stroke-width="1.6" />
<rect x="454.00" y="181.00" width="2.80" height="2.80" fill="#000" stroke="none" stroke-width="0"/>
<text x="463.40" y="184.10" font-family='"Liberation Sans", sans-serif' font-size="4.72" font-weight="normal" font-style="normal" text-anchor="start" fill="#000" stroke="#000" stroke-width="0.12" >Low CD4+ T cell counts</text>
<text x="35.60" y="265.60" font-family='"Liberation Sans", sans-serif' font-size="10.40" font-weight="bold" font-style="normal" text-anchor="start" fill="#000" stroke="#000" stroke-width="0.12" >E</text>
<line x1="79.50" y1="274.20" x2="79.50" y2="359.30" stroke="#111" stroke-width="1.2" />
<line x1="77.00" y1="358.90" x2="79.50" y2="358.90" stroke="#111" stroke-width="1.08" />
<text x="76.40" y="360.92" font-family='"Liberation Sans", sans-serif' font-size="5.60" font-weight="bold" font-style="normal" text-anchor="end" fill="#000" stroke="#000" stroke-width="0.12" >0</text>
<line x1="77.00" y1="342.02" x2="79.50" y2="342.02" stroke="#111" stroke-width="1.08" />
<text x="76.40" y="344.04" font-family='"Liberation Sans", sans-serif' font-size="5.60" font-weight="bold" font-style="normal" text-anchor="end" fill="#000" stroke="#000" stroke-width="0.12" >20</text>
<line x1="77.00" y1="325.14" x2="79.50" y2="325.14" stroke="#111" stroke-width="1.08" />
<text x="76.40" y="327.16" font-family='"Liberation Sans", sans-serif' font-size="5.60" font-weight="bold" font-style="normal" text-anchor="end" fill="#000" stroke="#000" stroke-width="0.12" >40</text>
<line x1="77.00" y1="308.26" x2="79.50" y2="308.26" stroke="#111" stroke-width="1.08" />
<text x="76.40" y="310.28" font-family='"Liberation Sans", sans-serif' font-size="5.60" font-weight="bold" font-style="normal" text-anchor="end" fill="#000" stroke="#000" stroke-width="0.12" >60</text>
<line x1="77.00" y1="291.38" x2="79.50" y2="291.38" stroke="#111" stroke-width="1.08" />
<text x="76.40" y="293.40" font-family='"Liberation Sans", sans-serif' font-size="5.60" font-weight="bold" font-style="normal" text-anchor="end" fill="#000" stroke="#000" stroke-width="0.12" >80</text>
<line x1="77.00" y1="274.50" x2="79.50" y2="274.50" stroke="#111" stroke-width="1.08" />
<text x="76.40" y="276.52" font-family='"Liberation Sans", sans-serif' font-size="5.60" font-weight="bold" font-style="normal" text-anchor="end" fill="#000" stroke="#000" stroke-width="0.12" >100</text>
<line x1="79.00" y1="358.90" x2="205.90" y2="358.90" stroke="#111" stroke-width="1.2" />
<line x1="79.50" y1="358.90" x2="79.50" y2="361.40" stroke="#111" stroke-width="1.08" />
<text x="79.50" y="368.03" font-family='"Liberation Sans", sans-serif' font-size="6.20" font-weight="bold" font-style="normal" text-anchor="middle" fill="#000" stroke="#000" stroke-width="0.12" >2</text>
<line x1="100.50" y1="358.90" x2="100.50" y2="361.40" stroke="#111" stroke-width="1.08" />
<text x="100.50" y="368.03" font-family='"Liberation Sans", sans-serif' font-size="6.20" font-weight="bold" font-style="normal" text-anchor="middle" fill="#000" stroke="#000" stroke-width="0.12" >5</text>
<line x1="135.50" y1="358.90" x2="135.50" y2="361.40" stroke="#111" stroke-width="1.08" />
<text x="135.50" y="368.03" font-family='"Liberation Sans", sans-serif' font-size="6.20" font-weight="bold" font-style="normal" text-anchor="middle" fill="#000" stroke="#000" stroke-width="0.12" >10</text>
<line x1="170.50" y1="358.90" x2="170.50" y2="361.40" stroke="#111" stroke-width="1.08" />
<text x="170.50" y="368.03" font-family='"Liberation Sans", sans-serif' font-size="6.20" font-weight="bold" font-style="normal" text-anchor="middle" fill="#000" stroke="#000" stroke-width="0.12" >15</text>
<line x1="205.50" y1="358.90" x2="205.50" y2="361.40" stroke="#111" stroke-width="1.08" />
<text x="205.50" y="368.03" font-family='"Liberation Sans", sans-serif' font-size="6.20" font-weight="bold" font-style="normal" text-anchor="middle" fill="#000" stroke="#000" stroke-width="0.12" >20</text>
<text x="119.20" y="377.46" font-family='"Liberation Sans", sans-serif' font-size="5.63" font-weight="bold" font-style="normal" text-anchor="start" fill="#000" stroke="#000" stroke-width="0.12" >years after HSCT</text>
<text x="0" y="0" transform="translate(62.44,318.00) rotate(-90)" font-family='"Liberation Sans", sans-serif' font-size="5.40" font-weight="bold" text-anchor="middle" fill="#000" stroke="#000" stroke-width="0.12">EFS</text>
<polyline points="79.50,285.00 83.75,285.00 83.75,287.00 107.50,287.00 107.50,288.80 128.75,288.80 128.75,290.50 206.30,290.50" fill="none" stroke="#8e8e8e" stroke-width="1.3" stroke-linejoin="miter" />
<line x1="88.00" y1="285.70" x2="88.00" y2="287.00" stroke="#8e8e8e" stroke-width="0.7" />
<line x1="93.00" y1="285.70" x2="93.00" y2="287.00" stroke="#8e8e8e" stroke-width="0.7" />
<line x1="97.00" y1="285.70" x2="97.00" y2="287.00" stroke="#8e8e8e" stroke-width="0.7" />
<line x1="102.00" y1="285.70" x2="102.00" y2="287.00" stroke="#8e8e8e" stroke-width="0.7" />
<line x1="113.00" y1="287.50" x2="113.00" y2="288.80" stroke="#8e8e8e" stroke-width="0.7" />
<line x1="117.00" y1="287.50" x2="117.00" y2="288.80" stroke="#8e8e8e" stroke-width="0.7" />
<line x1="122.00" y1="287.50" x2="122.00" y2="288.80" stroke="#8e8e8e" stroke-width="0.7" />
<line x1="135.00" y1="289.20" x2="135.00" y2="290.50" stroke="#8e8e8e" stroke-width="0.7" />
<line x1="142.00" y1="289.20" x2="142.00" y2="290.50" stroke="#8e8e8e" stroke-width="0.7" />
<line x1="150.00" y1="289.20" x2="150.00" y2="290.50" stroke="#8e8e8e" stroke-width="0.7" />
<line x1="158.00" y1="289.20" x2="158.00" y2="290.50" stroke="#8e8e8e" stroke-width="0.7" />
<line x1="166.00" y1="289.20" x2="166.00" y2="290.50" stroke="#8e8e8e" stroke-width="0.7" />
<line x1="175.00" y1="289.20" x2="175.00" y2="290.50" stroke="#8e8e8e" stroke-width="0.7" />
<line x1="183.00" y1="289.20" x2="183.00" y2="290.50" stroke="#8e8e8e" stroke-width="0.7" />
<line x1="191.00" y1="289.20" x2="191.00" y2="290.50" stroke="#8e8e8e" stroke-width="0.7" />
<line x1="199.00" y1="289.20" x2="199.00" y2="290.50" stroke="#8e8e8e" stroke-width="0.7" />
<polyline points="79.50,320.00 93.25,320.00 93.25,325.50 113.75,325.50 113.75,330.60 184.50,330.60 184.50,340.00 205.50,340.00" fill="none" stroke="#111" stroke-width="1.5" stroke-linejoin="miter" />
<line x1="86.00" y1="318.50" x2="86.00" y2="320.00" stroke="#111" stroke-width="0.8" />
<line x1="135.00" y1="329.10" x2="135.00" y2="330.60" stroke="#111" stroke-width="0.8" />
<line x1="142.00" y1="329.10" x2="142.00" y2="330.60" stroke="#111" stroke-width="0.8" />
<line x1="149.00" y1="329.10" x2="149.00" y2="330.60" stroke="#111" stroke-width="0.8" />
<line x1="156.00" y1="329.10" x2="156.00" y2="330.60" stroke="#111" stroke-width="0.8" />
<line x1="163.00" y1="329.10" x2="163.00" y2="330.60" stroke="#111" stroke-width="0.8" />
<line x1="192.00" y1="338.50" x2="192.00" y2="340.00" stroke="#111" stroke-width="0.8" />
<line x1="205.00" y1="338.50" x2="205.00" y2="340.00" stroke="#111" stroke-width="0.8" />
<text x="215.60" y="285.01" font-family='"Liberation Sans", sans-serif' font-size="5.30" fill="#000" stroke="#000" stroke-width="0.12"><tspan font-style="italic">P</tspan> &lt; .001</text>
<line x1="215.60" y1="292.10" x2="224.60" y2="292.10" stroke="#8e8e8e" stroke-width="1.3" />
<line x1="220.00" y1="291.00" x2="220.00" y2="292.10" stroke="#8e8e8e" stroke-width="0.7" />
<text x="229.90" y="294.09" font-family='"Liberation Sans", sans-serif' font-size="5.53" font-weight="normal" font-style="normal" text-anchor="start" fill="#000" stroke="#000" stroke-width="0.12" >IG (-)</text>
<line x1="215.60" y1="300.80" x2="224.60" y2="300.80" stroke="#111" stroke-width="1.6" />
<line x1="220.00" y1="299.50" x2="220.00" y2="300.80" stroke="#111" stroke-width="0.8" />
<text x="229.90" y="302.70" font-family='"Liberation Sans", sans-serif' font-size="5.26" font-weight="normal" font-style="normal" text-anchor="start" fill="#000" stroke="#000" stroke-width="0.12" >IG (+)</text>
<text x="39.40" y="385.19" font-family='"Liberation Serif", serif' font-size="5.12" font-weight="normal" font-style="italic" text-anchor="start" fill="#1a1a1a" stroke="#1a1a1a" stroke-width="0" >IG (-)</text>
<text x="39.40" y="391.62" font-family='"Liberation Serif", serif' font-size="5.22" font-weight="normal" font-style="italic" text-anchor="start" fill="#1a1a1a" stroke="#1a1a1a" stroke-width="0" >IG (+)</text>
<text x="68.80" y="385.35" font-family='"Liberation Serif", serif' font-size="5.60" font-weight="normal" font-style="italic" text-anchor="start" fill="#1a1a1a" stroke="#1a1a1a" stroke-width="0" >n= 55</text>
<text x="100.90" y="385.35" font-family='"Liberation Serif", serif' font-size="5.60" font-weight="normal" font-style="italic" text-anchor="start" fill="#1a1a1a" stroke="#1a1a1a" stroke-width="0" >46</text>
<text x="132.40" y="385.35" font-family='"Liberation Serif", serif' font-size="5.60" font-weight="normal" font-style="italic" text-anchor="start" fill="#1a1a1a" stroke="#1a1a1a" stroke-width="0" >32</text>
<text x="169.20" y="385.35" font-family='"Liberation Serif", serif' font-size="5.60" font-weight="normal" font-style="italic" text-anchor="start" fill="#1a1a1a" stroke="#1a1a1a" stroke-width="0" >25</text>
<text x="206.60" y="385.35" font-family='"Liberation Serif", serif' font-size="5.60" font-weight="normal" font-style="italic" text-anchor="start" fill="#1a1a1a" stroke="#1a1a1a" stroke-width="0" >16</text>
<text x="68.80" y="391.75" font-family='"Liberation Serif", serif' font-size="5.60" font-weight="normal" font-style="italic" text-anchor="start" fill="#1a1a1a" stroke="#1a1a1a" stroke-width="0" >n= 35</text>
<text x="100.90" y="391.75" font-family='"Liberation Serif", serif' font-size="5.60" font-weight="normal" font-style="italic" text-anchor="start" fill="#1a1a1a" stroke="#1a1a1a" stroke-width="0" >27</text>
<text x="132.40" y="391.75" font-family='"Liberation Serif", serif' font-size="5.60" font-weight="normal" font-style="italic" text-anchor="start" fill="#1a1a1a" stroke="#1a1a1a" stroke-width="0" >23</text>
<text x="169.20" y="391.75" font-family='"Liberation Serif", serif' font-size="5.60" font-weight="normal" font-style="italic" text-anchor="start" fill="#1a1a1a" stroke="#1a1a1a" stroke-width="0" >16</text>
<text x="206.20" y="391.75" font-family='"Liberation Serif", serif' font-size="5.60" font-weight="normal" font-style="italic" text-anchor="start" fill="#1a1a1a" stroke="#1a1a1a" stroke-width="0" >5</text>
<text x="263.70" y="265.60" font-family='"Liberation Sans", sans-serif' font-size="10.40" font-weight="bold" font-style="normal" text-anchor="start" fill="#000" stroke="#000" stroke-width="0.12" >F</text>
<line x1="299.50" y1="275.00" x2="299.50" y2="359.60" stroke="#111" stroke-width="1.2" />
<line x1="297.00" y1="359.20" x2="299.50" y2="359.20" stroke="#111" stroke-width="1.08" />
<text x="296.40" y="361.22" font-family='"Liberation Sans", sans-serif' font-size="5.60" font-weight="bold" font-style="normal" text-anchor="end" fill="#000" stroke="#000" stroke-width="0.12" >0</text>
<line x1="297.00" y1="338.28" x2="299.50" y2="338.28" stroke="#111" stroke-width="1.08" />
<text x="296.40" y="340.30" font-family='"Liberation Sans", sans-serif' font-size="5.60" font-weight="bold" font-style="normal" text-anchor="end" fill="#000" stroke="#000" stroke-width="0.12" >20</text>
<line x1="297.00" y1="317.36" x2="299.50" y2="317.36" stroke="#111" stroke-width="1.08" />
<text x="296.40" y="319.38" font-family='"Liberation Sans", sans-serif' font-size="5.60" font-weight="bold" font-style="normal" text-anchor="end" fill="#000" stroke="#000" stroke-width="0.12" >40</text>
<line x1="297.00" y1="296.44" x2="299.50" y2="296.44" stroke="#111" stroke-width="1.08" />
<text x="296.40" y="298.46" font-family='"Liberation Sans", sans-serif' font-size="5.60" font-weight="bold" font-style="normal" text-anchor="end" fill="#000" stroke="#000" stroke-width="0.12" >60</text>
<line x1="297.00" y1="275.52" x2="299.50" y2="275.52" stroke="#111" stroke-width="1.08" />
<text x="296.40" y="277.54" font-family='"Liberation Sans", sans-serif' font-size="5.60" font-weight="bold" font-style="normal" text-anchor="end" fill="#000" stroke="#000" stroke-width="0.12" >80</text>
<line x1="298.90" y1="359.20" x2="425.90" y2="359.20" stroke="#111" stroke-width="1.2" />
<line x1="299.50" y1="359.20" x2="299.50" y2="361.70" stroke="#111" stroke-width="1.08" />
<text x="299.50" y="368.13" font-family='"Liberation Sans", sans-serif' font-size="6.20" font-weight="bold" font-style="normal" text-anchor="middle" fill="#000" stroke="#000" stroke-width="0.12" >0</text>
<line x1="312.08" y1="359.20" x2="312.08" y2="361.70" stroke="#111" stroke-width="1.08" />
<text x="312.08" y="368.13" font-family='"Liberation Sans", sans-serif' font-size="6.20" font-weight="bold" font-style="normal" text-anchor="middle" fill="#000" stroke="#000" stroke-width="0.12" >2</text>
<line x1="330.95" y1="359.20" x2="330.95" y2="361.70" stroke="#111" stroke-width="1.08" />
<text x="330.95" y="368.13" font-family='"Liberation Sans", sans-serif' font-size="6.20" font-weight="bold" font-style="normal" text-anchor="middle" fill="#000" stroke="#000" stroke-width="0.12" >5</text>
<line x1="362.40" y1="359.20" x2="362.40" y2="361.70" stroke="#111" stroke-width="1.08" />
<text x="362.40" y="368.13" font-family='"Liberation Sans", sans-serif' font-size="6.20" font-weight="bold" font-style="normal" text-anchor="middle" fill="#000" stroke="#000" stroke-width="0.12" >10</text>
<line x1="393.85" y1="359.20" x2="393.85" y2="361.70" stroke="#111" stroke-width="1.08" />
<text x="393.85" y="368.13" font-family='"Liberation Sans", sans-serif' font-size="6.20" font-weight="bold" font-style="normal" text-anchor="middle" fill="#000" stroke="#000" stroke-width="0.12" >15</text>
<line x1="425.30" y1="359.20" x2="425.30" y2="361.70" stroke="#111" stroke-width="1.08" />
<text x="425.30" y="368.13" font-family='"Liberation Sans", sans-serif' font-size="6.20" font-weight="bold" font-style="normal" text-anchor="middle" fill="#000" stroke="#000" stroke-width="0.12" >20</text>
<text x="339.20" y="377.46" font-family='"Liberation Sans", sans-serif' font-size="5.63" font-weight="bold" font-style="normal" text-anchor="start" fill="#000" stroke="#000" stroke-width="0.12" >years after HSCT</text>
<text x="0" y="0" transform="translate(277.52,317.50) rotate(-90)" font-family='"Liberation Sans", sans-serif' font-size="5.60" font-weight="bold" text-anchor="middle" fill="#000" stroke="#000" stroke-width="0.12">%</text>
<polyline points="312.08,345.50 324.66,348.25 337.24,357.00 349.82,359.20 362.40,356.25 374.98,354.50 387.56,359.20 400.14,354.50 412.72,359.20 425.30,359.20" fill="none" stroke="#8e8e8e" stroke-width="1.6" stroke-linejoin="miter" />
<rect x="310.48" y="343.90" width="3.20" height="3.20" fill="#8e8e8e" stroke="none" stroke-width="0"/>
<rect x="323.06" y="346.65" width="3.20" height="3.20" fill="#8e8e8e" stroke="none" stroke-width="0"/>
<rect x="335.64" y="355.40" width="3.20" height="3.20" fill="#8e8e8e" stroke="none" stroke-width="0"/>
<rect x="348.22" y="357.60" width="3.20" height="3.20" fill="#8e8e8e" stroke="none" stroke-width="0"/>
<rect x="360.80" y="354.65" width="3.20" height="3.20" fill="#8e8e8e" stroke="none" stroke-width="0"/>
<rect x="373.38" y="352.90" width="3.20" height="3.20" fill="#8e8e8e" stroke="none" stroke-width="0"/>
<rect x="385.96" y="357.60" width="3.20" height="3.20" fill="#8e8e8e" stroke="none" stroke-width="0"/>
<rect x="398.54" y="352.90" width="3.20" height="3.20" fill="#8e8e8e" stroke="none" stroke-width="0"/>
<rect x="411.12" y="357.60" width="3.20" height="3.20" fill="#8e8e8e" stroke="none" stroke-width="0"/>
<rect x="423.70" y="357.60" width="3.20" height="3.20" fill="#8e8e8e" stroke="none" stroke-width="0"/>
<polyline points="312.08,292.50 324.66,310.75 337.24,310.75 349.82,315.00 362.40,327.00 374.98,327.50 387.56,316.00 400.14,337.00 412.72,327.50 425.30,317.00" fill="none" stroke="#000" stroke-width="1.8" stroke-linejoin="miter" />
<circle cx="312.08" cy="292.50" r="1.80" fill="#000"/>
<circle cx="324.66" cy="310.75" r="1.80" fill="#000"/>
<circle cx="337.24" cy="310.75" r="1.80" fill="#000"/>
<circle cx="349.82" cy="315.00" r="1.80" fill="#000"/>
<circle cx="362.40" cy="327.00" r="1.80" fill="#000"/>
<circle cx="374.98" cy="327.50" r="1.80" fill="#000"/>
<circle cx="387.56" cy="316.00" r="1.80" fill="#000"/>
<circle cx="400.14" cy="337.00" r="1.80" fill="#000"/>
<circle cx="412.72" cy="327.50" r="1.80" fill="#000"/>
<circle cx="425.30" cy="317.00" r="1.80" fill="#000"/>
<line x1="393.80" y1="280.10" x2="402.60" y2="280.10" stroke="#000" stroke-width="1.7" />
<circle cx="398.20" cy="280.10" r="1.70" fill="#000"/>
<text x="408.70" y="282.05" font-family='"Liberation Sans", sans-serif' font-size="5.42" font-weight="normal" font-style="normal" text-anchor="start" fill="#000" stroke="#000" stroke-width="0.12" >IG (+)</text>
<line x1="393.80" y1="288.30" x2="402.60" y2="288.30" stroke="#8e8e8e" stroke-width="1.6" />
<rect x="396.70" y="286.80" width="3.00" height="3.00" fill="#8e8e8e" stroke="none" stroke-width="0"/>
<text x="408.70" y="290.32" font-family='"Liberation Sans", sans-serif' font-size="5.62" font-weight="normal" font-style="normal" text-anchor="start" fill="#000" stroke="#000" stroke-width="0.12" >IG (-)</text>
<text x="263.40" y="385.58" font-family='"Liberation Serif", serif' font-size="5.39" font-weight="normal" font-style="italic" text-anchor="start" fill="#1a1a1a" stroke="#1a1a1a" stroke-width="0" >IVIG (-)</text>
<text x="263.40" y="392.43" font-family='"Liberation Serif", serif' font-size="5.24" font-weight="normal" font-style="italic" text-anchor="start" fill="#1a1a1a" stroke="#1a1a1a" stroke-width="0" >IVIG (+)</text>
<text x="302.50" y="385.65" font-family='"Liberation Serif", serif' font-size="5.60" font-weight="normal" font-style="italic" text-anchor="start" fill="#1a1a1a" stroke="#1a1a1a" stroke-width="0" >n= 55</text>
<text x="329.50" y="385.65" font-family='"Liberation Serif", serif' font-size="5.60" font-weight="normal" font-style="italic" text-anchor="start" fill="#1a1a1a" stroke="#1a1a1a" stroke-width="0" >46</text>
<text x="360.00" y="385.65" font-family='"Liberation Serif", serif' font-size="5.60" font-weight="normal" font-style="italic" text-anchor="start" fill="#1a1a1a" stroke="#1a1a1a" stroke-width="0" >32</text>
<text x="392.00" y="385.65" font-family='"Liberation Serif", serif' font-size="5.60" font-weight="normal" font-style="italic" text-anchor="start" fill="#1a1a1a" stroke="#1a1a1a" stroke-width="0" >25</text>
<text x="423.80" y="385.65" font-family='"Liberation Serif", serif' font-size="5.60" font-weight="normal" font-style="italic" text-anchor="start" fill="#1a1a1a" stroke="#1a1a1a" stroke-width="0" >16</text>
<text x="302.50" y="392.55" font-family='"Liberation Serif", serif' font-size="5.60" font-weight="normal" font-style="italic" text-anchor="start" fill="#1a1a1a" stroke="#1a1a1a" stroke-width="0" >n= 35</text>
<text x="329.50" y="392.55" font-family='"Liberation Serif", serif' font-size="5.60" font-weight="normal" font-style="italic" text-anchor="start" fill="#1a1a1a" stroke="#1a1a1a" stroke-width="0" >27</text>
<text x="360.00" y="392.55" font-family='"Liberation Serif", serif' font-size="5.60" font-weight="normal" font-style="italic" text-anchor="start" fill="#1a1a1a" stroke="#1a1a1a" stroke-width="0" >23</text>
<text x="392.00" y="392.55" font-family='"Liberation Serif", serif' font-size="5.60" font-weight="normal" font-style="italic" text-anchor="start" fill="#1a1a1a" stroke="#1a1a1a" stroke-width="0" >16</text>
<text x="424.40" y="392.55" font-family='"Liberation Serif", serif' font-size="5.60" font-weight="normal" font-style="italic" text-anchor="start" fill="#1a1a1a" stroke="#1a1a1a" stroke-width="0" >5</text>
<text x="20.50" y="415.60" font-family='"Liberation Sans", sans-serif' font-size="10.40" font-weight="bold" font-style="normal" text-anchor="start" fill="#000" stroke="#000" stroke-width="0.12" >G</text>
<line x1="33.00" y1="428.00" x2="33.00" y2="512.90" stroke="#111" stroke-width="1.2" />
<line x1="30.50" y1="512.50" x2="33.00" y2="512.50" stroke="#111" stroke-width="1.08" />
<text x="29.90" y="514.52" font-family='"Liberation Sans", sans-serif' font-size="5.60" font-weight="bold" font-style="normal" text-anchor="end" fill="#000" stroke="#000" stroke-width="0.12" >0</text>
<line x1="30.50" y1="495.65" x2="33.00" y2="495.65" stroke="#111" stroke-width="1.08" />
<text x="29.90" y="497.67" font-family='"Liberation Sans", sans-serif' font-size="5.60" font-weight="bold" font-style="normal" text-anchor="end" fill="#000" stroke="#000" stroke-width="0.12" >10</text>
<line x1="30.50" y1="478.80" x2="33.00" y2="478.80" stroke="#111" stroke-width="1.08" />
<text x="29.90" y="480.82" font-family='"Liberation Sans", sans-serif' font-size="5.60" font-weight="bold" font-style="normal" text-anchor="end" fill="#000" stroke="#000" stroke-width="0.12" >20</text>
<line x1="30.50" y1="461.95" x2="33.00" y2="461.95" stroke="#111" stroke-width="1.08" />
<text x="29.90" y="463.97" font-family='"Liberation Sans", sans-serif' font-size="5.60" font-weight="bold" font-style="normal" text-anchor="end" fill="#000" stroke="#000" stroke-width="0.12" >30</text>
<line x1="30.50" y1="445.10" x2="33.00" y2="445.10" stroke="#111" stroke-width="1.08" />
<text x="29.90" y="447.12" font-family='"Liberation Sans", sans-serif' font-size="5.60" font-weight="bold" font-style="normal" text-anchor="end" fill="#000" stroke="#000" stroke-width="0.12" >40</text>
<line x1="30.50" y1="428.25" x2="33.00" y2="428.25" stroke="#111" stroke-width="1.08" />
<text x="29.90" y="430.27" font-family='"Liberation Sans", sans-serif' font-size="5.60" font-weight="bold" font-style="normal" text-anchor="end" fill="#000" stroke="#000" stroke-width="0.12" >50</text>
<line x1="32.40" y1="512.50" x2="160.20" y2="512.50" stroke="#111" stroke-width="1.2" />
<text x="0" y="0" transform="translate(12.24,471.00) rotate(-90)" font-family='"Liberation Sans", sans-serif' font-size="5.40" font-weight="bold" text-anchor="middle" fill="#000" stroke="#000" stroke-width="0.12">%</text>
<rect x="38.60" y="469.40" width="7.60" height="43.10" fill="#5a5a5a" stroke="#000" stroke-width="1.3"/>
<rect x="46.90" y="508.70" width="7.80" height="3.80" fill="#d9d9d9" stroke="#c2c2c2" stroke-width="0.8"/>
<rect x="63.60" y="494.40" width="7.60" height="18.10" fill="#5a5a5a" stroke="#000" stroke-width="1.3"/>
<rect x="71.90" y="497.40" width="7.80" height="15.10" fill="#d9d9d9" stroke="#c2c2c2" stroke-width="0.8"/>
<rect x="88.60" y="469.40" width="7.60" height="43.10" fill="#5a5a5a" stroke="#000" stroke-width="1.3"/>
<rect x="96.90" y="503.40" width="7.80" height="9.10" fill="#d9d9d9" stroke="#c2c2c2" stroke-width="0.8"/>
<rect x="114.10" y="440.20" width="7.60" height="72.30" fill="#5a5a5a" stroke="#000" stroke-width="1.3"/>
<rect x="122.40" y="503.30" width="7.80" height="9.20" fill="#d9d9d9" stroke="#c2c2c2" stroke-width="0.8"/>
<rect x="139.10" y="474.40" width="7.60" height="38.10" fill="#5a5a5a" stroke="#000" stroke-width="1.3"/>
<rect x="147.40" y="506.70" width="7.80" height="5.80" fill="#d9d9d9" stroke="#c2c2c2" stroke-width="0.8"/>
<polygon points="42.50,457.10 43.27,459.15 45.45,459.24 43.74,460.60 44.32,462.71 42.50,461.50 40.68,462.71 41.26,460.60 39.55,459.24 41.73,459.15" fill="#000"/>
<polygon points="92.50,457.10 93.27,459.15 95.45,459.24 93.74,460.60 94.32,462.71 92.50,461.50 90.68,462.71 91.26,460.60 89.55,459.24 91.73,459.15" fill="#000"/>
<polygon points="118.00,428.80 118.77,430.85 120.95,430.94 119.24,432.30 119.82,434.41 118.00,433.20 116.18,434.41 116.76,432.30 115.05,430.94 117.23,430.85" fill="#000"/>
<polygon points="143.60,462.10 144.37,464.15 146.55,464.24 144.84,465.60 145.42,467.71 143.60,466.50 141.78,467.71 142.36,465.60 140.65,464.24 142.83,464.15" fill="#000"/>
<text x="42.40" y="520.84" font-family='"Liberation Sans", sans-serif' font-size="5.67" font-weight="bold" font-style="normal" text-anchor="start" fill="#000" stroke="#000" stroke-width="0.12" >inf.</text>
<text x="65.90" y="520.87" font-family='"Liberation Sans", sans-serif' font-size="5.74" font-weight="bold" font-style="normal" text-anchor="start" fill="#000" stroke="#000" stroke-width="0.12" >HPV</text>
<text x="86.70" y="520.81" font-family='"Liberation Sans", sans-serif' font-size="5.60" font-weight="bold" font-style="normal" text-anchor="start" fill="#000" stroke="#000" stroke-width="0.12" >autoim.</text>
<text x="114.20" y="520.89" font-family='"Liberation Sans", sans-serif' font-size="5.81" font-weight="bold" font-style="normal" text-anchor="start" fill="#000" stroke="#000" stroke-width="0.12" >nut.sup.</text>
<text x="141.20" y="520.93" font-family='"Liberation Sans", sans-serif' font-size="5.92" font-weight="bold" font-style="normal" text-anchor="start" fill="#000" stroke="#000" stroke-width="0.12" >cGVHD</text>
<text x="87.90" y="528.31" font-family='"Liberation Sans", sans-serif' font-size="5.59" font-weight="bold" font-style="normal" text-anchor="start" fill="#000" stroke="#000" stroke-width="0.12" >inflam.</text>
<rect x="136.40" y="432.00" width="10.40" height="3.20" fill="#5a5a5a" stroke="#000" stroke-width="0.9"/>
<text x="150.40" y="435.59" font-family='"Liberation Sans", sans-serif' font-size="6.08" font-weight="normal" font-style="normal" text-anchor="start" fill="#000" stroke="#000" stroke-width="0.12" >IG (+)</text>
<rect x="136.40" y="441.80" width="10.40" height="3.20" fill="#d9d9d9" stroke="#c2c2c2" stroke-width="0.8"/>
<text x="150.40" y="445.41" font-family='"Liberation Sans", sans-serif' font-size="5.87" font-weight="normal" font-style="normal" text-anchor="start" fill="#000" stroke="#000" stroke-width="0.12" >IG (-)</text>
<text x="210.10" y="417.20" font-family='"Liberation Sans", sans-serif' font-size="10.40" font-weight="bold" font-style="normal" text-anchor="start" fill="#000" stroke="#000" stroke-width="0.12" >H</text>
<text x="235.90" y="416.50" font-family='"Liberation Sans", sans-serif' font-size="7.23" font-weight="normal" font-style="normal" text-anchor="start" fill="#000" stroke="#000" stroke-width="0.12" >Severe HPV infections</text>
<text x="258.70" y="424.65" font-family='"Liberation Sans", sans-serif' font-size="7.09" font-weight="normal" font-style="normal" text-anchor="start" fill="#000" stroke="#000" stroke-width="0.12" >included</text>
<line x1="220.70" y1="427.80" x2="220.70" y2="513.40" stroke="#111" stroke-width="1.2" />
<line x1="218.20" y1="513.00" x2="220.70" y2="513.00" stroke="#111" stroke-width="1.08" />
<text x="217.60" y="514.87" font-family='"Liberation Sans", sans-serif' font-size="5.20" font-weight="bold" font-style="normal" text-anchor="end" fill="#000" stroke="#000" stroke-width="0.12" >0</text>
<line x1="218.20" y1="496.05" x2="220.70" y2="496.05" stroke="#111" stroke-width="1.08" />
<text x="217.60" y="497.92" font-family='"Liberation Sans", sans-serif' font-size="5.20" font-weight="bold" font-style="normal" text-anchor="end" fill="#000" stroke="#000" stroke-width="0.12" >1</text>
<line x1="218.20" y1="479.10" x2="220.70" y2="479.10" stroke="#111" stroke-width="1.08" />
<text x="217.60" y="480.97" font-family='"Liberation Sans", sans-serif' font-size="5.20" font-weight="bold" font-style="normal" text-anchor="end" fill="#000" stroke="#000" stroke-width="0.12" >2</text>
<line x1="218.20" y1="462.15" x2="220.70" y2="462.15" stroke="#111" stroke-width="1.08" />
<text x="217.60" y="464.02" font-family='"Liberation Sans", sans-serif' font-size="5.20" font-weight="bold" font-style="normal" text-anchor="end" fill="#000" stroke="#000" stroke-width="0.12" >3</text>
<line x1="218.20" y1="445.20" x2="220.70" y2="445.20" stroke="#111" stroke-width="1.08" />
<text x="217.60" y="447.07" font-family='"Liberation Sans", sans-serif' font-size="5.20" font-weight="bold" font-style="normal" text-anchor="end" fill="#000" stroke="#000" stroke-width="0.12" >4</text>
<line x1="218.20" y1="428.25" x2="220.70" y2="428.25" stroke="#111" stroke-width="1.08" />
<text x="217.60" y="430.12" font-family='"Liberation Sans", sans-serif' font-size="5.20" font-weight="bold" font-style="normal" text-anchor="end" fill="#000" stroke="#000" stroke-width="0.12" >5</text>
<line x1="220.10" y1="513.00" x2="340.80" y2="513.00" stroke="#111" stroke-width="1.2" />
<line x1="233.20" y1="513.00" x2="233.20" y2="515.50" stroke="#111" stroke-width="1.08" />
<text x="233.20" y="520.54" font-family='"Liberation Sans", sans-serif' font-size="5.40" font-weight="bold" font-style="normal" text-anchor="middle" fill="#000" stroke="#000" stroke-width="0.12" >2</text>
<line x1="258.60" y1="513.00" x2="258.60" y2="515.50" stroke="#111" stroke-width="1.08" />
<text x="258.60" y="520.54" font-family='"Liberation Sans", sans-serif' font-size="5.40" font-weight="bold" font-style="normal" text-anchor="middle" fill="#000" stroke="#000" stroke-width="0.12" >5</text>
<line x1="283.80" y1="513.00" x2="283.80" y2="515.50" stroke="#111" stroke-width="1.08" />
<text x="283.80" y="520.54" font-family='"Liberation Sans", sans-serif' font-size="5.40" font-weight="bold" font-style="normal" text-anchor="middle" fill="#000" stroke="#000" stroke-width="0.12" >10</text>
<line x1="309.00" y1="513.00" x2="309.00" y2="515.50" stroke="#111" stroke-width="1.08" />
<text x="309.00" y="520.54" font-family='"Liberation Sans", sans-serif' font-size="5.40" font-weight="bold" font-style="normal" text-anchor="middle" fill="#000" stroke="#000" stroke-width="0.12" >15</text>
<line x1="334.50" y1="513.00" x2="334.50" y2="515.50" stroke="#111" stroke-width="1.08" />
<text x="334.50" y="520.54" font-family='"Liberation Sans", sans-serif' font-size="5.40" font-weight="bold" font-style="normal" text-anchor="middle" fill="#000" stroke="#000" stroke-width="0.12" >20</text>
<text x="260.40" y="528.06" font-family='"Liberation Sans", sans-serif' font-size="5.93" font-weight="bold" font-style="normal" text-anchor="start" fill="#000" stroke="#000" stroke-width="0.12" >years after HSCT</text>
<text x="0" y="0" transform="translate(210.82,471.00) rotate(-90)" font-family='"Liberation Sans", sans-serif' font-size="7.00" font-weight="normal" text-anchor="middle" fill="#222" stroke="#222" stroke-width="0.12">clinical score</text>
<polyline points="233.20,501.70 258.60,500.60 283.80,503.20 309.00,501.20 334.50,497.60" fill="none" stroke="#8a8a8a" stroke-width="1.6" stroke-linejoin="miter" />
<line x1="233.20" y1="498.80" x2="233.20" y2="504.60" stroke="#8a8a8a" stroke-width="1.1" />
<line x1="231.20" y1="498.80" x2="235.20" y2="498.80" stroke="#8a8a8a" stroke-width="1.1" />
<line x1="231.20" y1="504.60" x2="235.20" y2="504.60" stroke="#8a8a8a" stroke-width="1.1" />
<polygon points="231.40,500.44 235.00,500.44 233.20,503.32" fill="#8a8a8a"/>
<line x1="258.60" y1="495.50" x2="258.60" y2="504.60" stroke="#8a8a8a" stroke-width="1.1" />
<line x1="256.60" y1="495.50" x2="260.60" y2="495.50" stroke="#8a8a8a" stroke-width="1.1" />
<line x1="256.60" y1="504.60" x2="260.60" y2="504.60" stroke="#8a8a8a" stroke-width="1.1" />
<polygon points="256.80,499.34 260.40,499.34 258.60,502.22" fill="#8a8a8a"/>
<line x1="283.80" y1="500.00" x2="283.80" y2="506.00" stroke="#8a8a8a" stroke-width="1.1" />
<line x1="281.80" y1="500.00" x2="285.80" y2="500.00" stroke="#8a8a8a" stroke-width="1.1" />
<line x1="281.80" y1="506.00" x2="285.80" y2="506.00" stroke="#8a8a8a" stroke-width="1.1" />
<polygon points="282.00,501.94 285.60,501.94 283.80,504.82" fill="#8a8a8a"/>
<line x1="309.00" y1="497.50" x2="309.00" y2="504.50" stroke="#8a8a8a" stroke-width="1.1" />
<line x1="307.00" y1="497.50" x2="311.00" y2="497.50" stroke="#8a8a8a" stroke-width="1.1" />
<line x1="307.00" y1="504.50" x2="311.00" y2="504.50" stroke="#8a8a8a" stroke-width="1.1" />
<polygon points="307.20,499.94 310.80,499.94 309.00,502.82" fill="#8a8a8a"/>
<line x1="334.50" y1="495.50" x2="334.50" y2="499.50" stroke="#8a8a8a" stroke-width="1.1" />
<line x1="332.50" y1="495.50" x2="336.50" y2="495.50" stroke="#8a8a8a" stroke-width="1.1" />
<line x1="332.50" y1="499.50" x2="336.50" y2="499.50" stroke="#8a8a8a" stroke-width="1.1" />
<polygon points="332.70,496.34 336.30,496.34 334.50,499.22" fill="#8a8a8a"/>
<polyline points="233.20,459.30 258.60,474.50 283.80,474.50 309.00,467.60 334.50,492.40" fill="none" stroke="#000" stroke-width="1.8" stroke-linejoin="miter" />
<line x1="233.20" y1="459.30" x2="233.20" y2="449.20" stroke="#000" stroke-width="1.4" />
<line x1="231.10" y1="449.20" x2="235.30" y2="449.20" stroke="#000" stroke-width="1.4" />
<rect x="231.60" y="457.70" width="3.20" height="3.20" fill="#000" stroke="none" stroke-width="0"/>
<line x1="258.60" y1="474.50" x2="258.60" y2="465.00" stroke="#000" stroke-width="1.4" />
<line x1="256.50" y1="465.00" x2="260.70" y2="465.00" stroke="#000" stroke-width="1.4" />
<rect x="257.00" y="472.90" width="3.20" height="3.20" fill="#000" stroke="none" stroke-width="0"/>
<line x1="283.80" y1="474.50" x2="283.80" y2="464.50" stroke="#000" stroke-width="1.4" />
<line x1="281.70" y1="464.50" x2="285.90" y2="464.50" stroke="#000" stroke-width="1.4" />
<rect x="282.20" y="472.90" width="3.20" height="3.20" fill="#000" stroke="none" stroke-width="0"/>
<line x1="309.00" y1="467.60" x2="309.00" y2="454.60" stroke="#000" stroke-width="1.4" />
<line x1="306.90" y1="454.60" x2="311.10" y2="454.60" stroke="#000" stroke-width="1.4" />
<rect x="307.40" y="466.00" width="3.20" height="3.20" fill="#000" stroke="none" stroke-width="0"/>
<line x1="334.50" y1="492.40" x2="334.50" y2="487.80" stroke="#000" stroke-width="1.4" />
<line x1="332.40" y1="487.80" x2="336.60" y2="487.80" stroke="#000" stroke-width="1.4" />
<rect x="332.90" y="490.80" width="3.20" height="3.20" fill="#000" stroke="none" stroke-width="0"/>
<text x="311.60" y="439.70" font-family='"Liberation Sans", sans-serif' font-size="5.00" fill="#000" stroke="#000" stroke-width="0.12"><tspan font-style="italic">P</tspan> = .03</text>
<line x1="352.80" y1="429.00" x2="352.80" y2="512.90" stroke="#111" stroke-width="1.2" />
<line x1="350.30" y1="512.50" x2="352.80" y2="512.50" stroke="#111" stroke-width="1.08" />
<text x="349.70" y="514.37" font-family='"Liberation Sans", sans-serif' font-size="5.20" font-weight="bold" font-style="normal" text-anchor="end" fill="#000" stroke="#000" stroke-width="0.12" >0</text>
<line x1="350.30" y1="495.90" x2="352.80" y2="495.90" stroke="#111" stroke-width="1.08" />
<text x="349.70" y="497.77" font-family='"Liberation Sans", sans-serif' font-size="5.20" font-weight="bold" font-style="normal" text-anchor="end" fill="#000" stroke="#000" stroke-width="0.12" >1</text>
<line x1="350.30" y1="479.30" x2="352.80" y2="479.30" stroke="#111" stroke-width="1.08" />
<text x="349.70" y="481.17" font-family='"Liberation Sans", sans-serif' font-size="5.20" font-weight="bold" font-style="normal" text-anchor="end" fill="#000" stroke="#000" stroke-width="0.12" >2</text>
<line x1="350.30" y1="462.70" x2="352.80" y2="462.70" stroke="#111" stroke-width="1.08" />
<text x="349.70" y="464.57" font-family='"Liberation Sans", sans-serif' font-size="5.20" font-weight="bold" font-style="normal" text-anchor="end" fill="#000" stroke="#000" stroke-width="0.12" >3</text>
<line x1="350.30" y1="446.10" x2="352.80" y2="446.10" stroke="#111" stroke-width="1.08" />
<text x="349.70" y="447.97" font-family='"Liberation Sans", sans-serif' font-size="5.20" font-weight="bold" font-style="normal" text-anchor="end" fill="#000" stroke="#000" stroke-width="0.12" >4</text>
<line x1="350.30" y1="429.50" x2="352.80" y2="429.50" stroke="#111" stroke-width="1.08" />
<text x="349.70" y="431.37" font-family='"Liberation Sans", sans-serif' font-size="5.20" font-weight="bold" font-style="normal" text-anchor="end" fill="#000" stroke="#000" stroke-width="0.12" >5</text>
<line x1="352.20" y1="512.50" x2="485.40" y2="512.50" stroke="#111" stroke-width="1.2" />
<line x1="366.70" y1="512.50" x2="366.70" y2="515.00" stroke="#111" stroke-width="1.08" />
<text x="366.70" y="521.34" font-family='"Liberation Sans", sans-serif' font-size="5.40" font-weight="bold" font-style="normal" text-anchor="middle" fill="#000" stroke="#000" stroke-width="0.12" >2</text>
<line x1="391.90" y1="512.50" x2="391.90" y2="515.00" stroke="#111" stroke-width="1.08" />
<text x="391.90" y="521.34" font-family='"Liberation Sans", sans-serif' font-size="5.40" font-weight="bold" font-style="normal" text-anchor="middle" fill="#000" stroke="#000" stroke-width="0.12" >5</text>
<line x1="417.90" y1="512.50" x2="417.90" y2="515.00" stroke="#111" stroke-width="1.08" />
<text x="417.90" y="521.34" font-family='"Liberation Sans", sans-serif' font-size="5.40" font-weight="bold" font-style="normal" text-anchor="middle" fill="#000" stroke="#000" stroke-width="0.12" >10</text>
<line x1="442.80" y1="512.50" x2="442.80" y2="515.00" stroke="#111" stroke-width="1.08" />
<text x="442.80" y="521.34" font-family='"Liberation Sans", sans-serif' font-size="5.40" font-weight="bold" font-style="normal" text-anchor="middle" fill="#000" stroke="#000" stroke-width="0.12" >15</text>
<line x1="468.10" y1="512.50" x2="468.10" y2="515.00" stroke="#111" stroke-width="1.08" />
<text x="468.10" y="521.34" font-family='"Liberation Sans", sans-serif' font-size="5.40" font-weight="bold" font-style="normal" text-anchor="middle" fill="#000" stroke="#000" stroke-width="0.12" >20</text>
<text x="394.00" y="530.82" font-family='"Liberation Sans", sans-serif' font-size="6.13" font-weight="bold" font-style="normal" text-anchor="start" fill="#000" stroke="#000" stroke-width="0.12" >years after HSCT</text>
<text x="368.10" y="417.25" font-family='"Liberation Sans", sans-serif' font-size="7.36" font-weight="normal" font-style="normal" text-anchor="start" fill="#000" stroke="#000" stroke-width="0.12" >Severe HPV infections</text>
<text x="388.90" y="425.39" font-family='"Liberation Sans", sans-serif' font-size="7.74" font-weight="normal" font-style="normal" text-anchor="start" fill="#000" stroke="#000" stroke-width="0.12" >excluded</text>
<polyline points="366.70,501.40 391.90,501.40 417.90,508.30 442.80,507.30 468.10,509.00" fill="none" stroke="#8a8a8a" stroke-width="1.6" stroke-linejoin="miter" />
<line x1="366.70" y1="498.00" x2="366.70" y2="504.60" stroke="#8a8a8a" stroke-width="1.1" />
<line x1="364.70" y1="498.00" x2="368.70" y2="498.00" stroke="#8a8a8a" stroke-width="1.1" />
<line x1="364.70" y1="504.60" x2="368.70" y2="504.60" stroke="#8a8a8a" stroke-width="1.1" />
<polygon points="364.90,500.14 368.50,500.14 366.70,503.02" fill="#8a8a8a"/>
<line x1="391.90" y1="497.80" x2="391.90" y2="504.80" stroke="#8a8a8a" stroke-width="1.1" />
<line x1="389.90" y1="497.80" x2="393.90" y2="497.80" stroke="#8a8a8a" stroke-width="1.1" />
<line x1="389.90" y1="504.80" x2="393.90" y2="504.80" stroke="#8a8a8a" stroke-width="1.1" />
<polygon points="390.10,500.14 393.70,500.14 391.90,503.02" fill="#8a8a8a"/>
<line x1="417.90" y1="506.50" x2="417.90" y2="510.00" stroke="#8a8a8a" stroke-width="1.1" />
<line x1="415.90" y1="506.50" x2="419.90" y2="506.50" stroke="#8a8a8a" stroke-width="1.1" />
<line x1="415.90" y1="510.00" x2="419.90" y2="510.00" stroke="#8a8a8a" stroke-width="1.1" />
<polygon points="416.10,507.04 419.70,507.04 417.90,509.92" fill="#8a8a8a"/>
<line x1="442.80" y1="504.50" x2="442.80" y2="510.00" stroke="#8a8a8a" stroke-width="1.1" />
<line x1="440.80" y1="504.50" x2="444.80" y2="504.50" stroke="#8a8a8a" stroke-width="1.1" />
<line x1="440.80" y1="510.00" x2="444.80" y2="510.00" stroke="#8a8a8a" stroke-width="1.1" />
<polygon points="441.00,506.04 444.60,506.04 442.80,508.92" fill="#8a8a8a"/>
<line x1="468.10" y1="507.00" x2="468.10" y2="511.00" stroke="#8a8a8a" stroke-width="1.1" />
<line x1="466.10" y1="507.00" x2="470.10" y2="507.00" stroke="#8a8a8a" stroke-width="1.1" />
<line x1="466.10" y1="511.00" x2="470.10" y2="511.00" stroke="#8a8a8a" stroke-width="1.1" />
<polygon points="466.30,507.74 469.90,507.74 468.10,510.62" fill="#8a8a8a"/>
<polyline points="366.70,458.80 391.90,477.90 417.90,481.30 442.80,477.90 468.10,502.80" fill="none" stroke="#000" stroke-width="1.8" stroke-linejoin="miter" />
<line x1="366.70" y1="458.80" x2="366.70" y2="449.20" stroke="#000" stroke-width="1.4" />
<line x1="364.60" y1="449.20" x2="368.80" y2="449.20" stroke="#000" stroke-width="1.4" />
<rect x="365.10" y="457.20" width="3.20" height="3.20" fill="#000" stroke="none" stroke-width="0"/>
<line x1="391.90" y1="477.90" x2="391.90" y2="469.20" stroke="#000" stroke-width="1.4" />
<line x1="389.80" y1="469.20" x2="394.00" y2="469.20" stroke="#000" stroke-width="1.4" />
<rect x="390.30" y="476.30" width="3.20" height="3.20" fill="#000" stroke="none" stroke-width="0"/>
<line x1="417.90" y1="481.30" x2="417.90" y2="471.00" stroke="#000" stroke-width="1.4" />
<line x1="415.80" y1="471.00" x2="420.00" y2="471.00" stroke="#000" stroke-width="1.4" />
<rect x="416.30" y="479.70" width="3.20" height="3.20" fill="#000" stroke="none" stroke-width="0"/>
<line x1="442.80" y1="477.90" x2="442.80" y2="464.00" stroke="#000" stroke-width="1.4" />
<line x1="440.70" y1="464.00" x2="444.90" y2="464.00" stroke="#000" stroke-width="1.4" />
<rect x="441.20" y="476.30" width="3.20" height="3.20" fill="#000" stroke="none" stroke-width="0"/>
<line x1="468.10" y1="502.80" x2="468.10" y2="496.20" stroke="#000" stroke-width="1.4" />
<line x1="466.00" y1="496.20" x2="470.20" y2="496.20" stroke="#000" stroke-width="1.4" />
<rect x="466.50" y="501.20" width="3.20" height="3.20" fill="#000" stroke="none" stroke-width="0"/>
<text x="450.90" y="438.20" font-family='"Liberation Sans", sans-serif' font-size="5.00" fill="#000" stroke="#000" stroke-width="0.12"><tspan font-style="italic">P</tspan> = .03</text>
<line x1="447.30" y1="445.00" x2="457.70" y2="445.00" stroke="#000" stroke-width="1.8" />
<rect x="451.00" y="443.50" width="3.00" height="3.00" fill="#000" stroke="none" stroke-width="0"/>
<text x="461.40" y="447.09" font-family='"Liberation Sans", sans-serif' font-size="5.81" font-weight="normal" font-style="normal" text-anchor="start" fill="#000" stroke="#000" stroke-width="0.12" >IG (+)</text>
<line x1="447.30" y1="454.70" x2="457.70" y2="454.70" stroke="#8a8a8a" stroke-width="1.6" />
<polygon points="450.80,453.51 454.20,453.51 452.50,456.23" fill="#8a8a8a"/>
<text x="461.40" y="456.86" font-family='"Liberation Sans", sans-serif' font-size="6.00" font-weight="normal" font-style="normal" text-anchor="start" fill="#000" stroke="#000" stroke-width="0.12" >IG (-)</text>
</svg>
</body></html>
